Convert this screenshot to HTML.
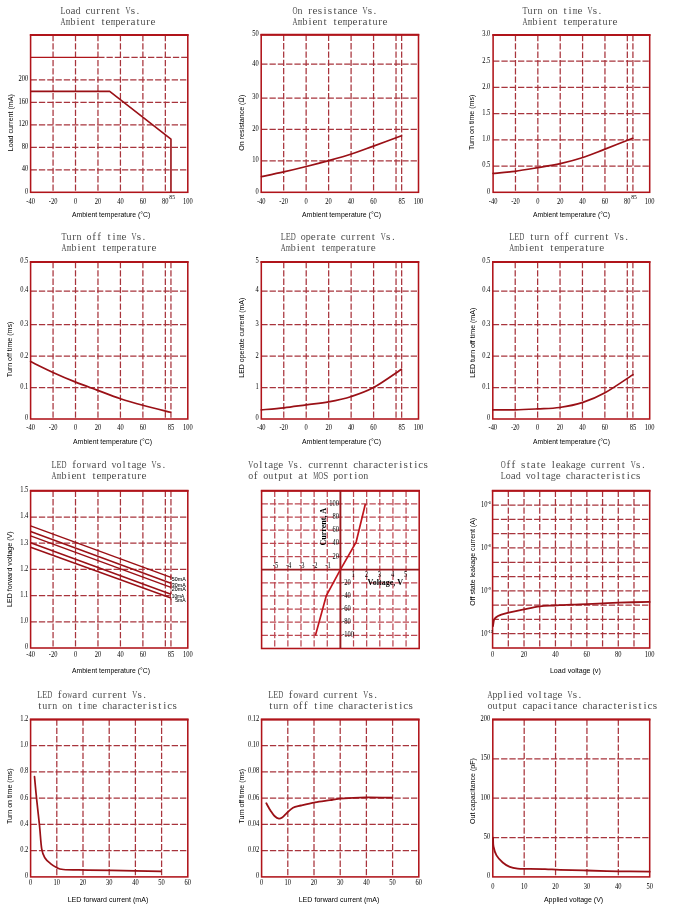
<!DOCTYPE html><html><head><meta charset="utf-8"><style>html,body{margin:0;padding:0;background:#fff;overflow:hidden}svg{display:block}</style></head><body>
<svg width="678" height="918" viewBox="0 0 678 918" style="will-change:transform">
<rect width="678" height="918" fill="#fff"/>
<line x1="53.06" y1="35" x2="53.06" y2="192.3" stroke="#a8343c" stroke-width="1.25" stroke-dasharray="6.3 2"/>
<line x1="75.51" y1="35" x2="75.51" y2="192.3" stroke="#a8343c" stroke-width="1.25" stroke-dasharray="6.3 2"/>
<line x1="97.97" y1="35" x2="97.97" y2="192.3" stroke="#a8343c" stroke-width="1.25" stroke-dasharray="6.3 2"/>
<line x1="120.43" y1="35" x2="120.43" y2="192.3" stroke="#a8343c" stroke-width="1.25" stroke-dasharray="6.3 2"/>
<line x1="142.89" y1="35" x2="142.89" y2="192.3" stroke="#a8343c" stroke-width="1.25" stroke-dasharray="6.3 2"/>
<line x1="165.34" y1="35" x2="165.34" y2="192.3" stroke="#a8343c" stroke-width="1.25" stroke-dasharray="6.3 2"/>
<line x1="30.6" y1="169.83" x2="187.8" y2="169.83" stroke="#a8343c" stroke-width="1.25" stroke-dasharray="6.3 2"/>
<line x1="30.6" y1="147.36" x2="187.8" y2="147.36" stroke="#a8343c" stroke-width="1.25" stroke-dasharray="6.3 2"/>
<line x1="30.6" y1="124.89" x2="187.8" y2="124.89" stroke="#a8343c" stroke-width="1.25" stroke-dasharray="6.3 2"/>
<line x1="30.6" y1="102.41" x2="187.8" y2="102.41" stroke="#a8343c" stroke-width="1.25" stroke-dasharray="6.3 2"/>
<line x1="30.6" y1="79.94" x2="187.8" y2="79.94" stroke="#a8343c" stroke-width="1.25" stroke-dasharray="6.3 2"/>
<line x1="30.6" y1="57.47" x2="98.2" y2="57.47" stroke="#b0141a" stroke-width="1.2"/>
<line x1="98.2" y1="57.47" x2="187.8" y2="57.47" stroke="#a8343c" stroke-width="1.25" stroke-dasharray="6.3 2"/>
<rect x="30.6" y="35" width="157.2" height="157.3" fill="none" stroke="#b0141a" stroke-width="1.55"/>
<line x1="29.85" y1="35" x2="188.55" y2="35" stroke="#b0141a" stroke-width="2.1"/>
<text x="28.3" y="193.6" font-family="Liberation Serif" font-size="7.2" text-anchor="end" fill="#000" textLength="3.24" lengthAdjust="spacingAndGlyphs">0</text>
<text x="28.3" y="171.13" font-family="Liberation Serif" font-size="7.2" text-anchor="end" fill="#000" textLength="6.48" lengthAdjust="spacingAndGlyphs">40</text>
<text x="28.3" y="148.66" font-family="Liberation Serif" font-size="7.2" text-anchor="end" fill="#000" textLength="6.48" lengthAdjust="spacingAndGlyphs">80</text>
<text x="28.3" y="126.19" font-family="Liberation Serif" font-size="7.2" text-anchor="end" fill="#000" textLength="9.72" lengthAdjust="spacingAndGlyphs">120</text>
<text x="28.3" y="103.71" font-family="Liberation Serif" font-size="7.2" text-anchor="end" fill="#000" textLength="9.72" lengthAdjust="spacingAndGlyphs">160</text>
<text x="28.3" y="81.24" font-family="Liberation Serif" font-size="7.2" text-anchor="end" fill="#000" textLength="9.72" lengthAdjust="spacingAndGlyphs">200</text>
<path d="M30.6,91.4 L109.7,91.4 L170.96,139.2 L170.96,192.3" fill="none" stroke="#9a1016" stroke-width="1.6" stroke-linejoin="round"/>
<text x="30.6" y="204" font-family="Liberation Serif" font-size="7.2" text-anchor="middle" fill="#000" textLength="8.64" lengthAdjust="spacingAndGlyphs">-40</text>
<text x="53.06" y="204" font-family="Liberation Serif" font-size="7.2" text-anchor="middle" fill="#000" textLength="8.64" lengthAdjust="spacingAndGlyphs">-20</text>
<text x="75.51" y="204" font-family="Liberation Serif" font-size="7.2" text-anchor="middle" fill="#000" textLength="3.24" lengthAdjust="spacingAndGlyphs">0</text>
<text x="97.97" y="204" font-family="Liberation Serif" font-size="7.2" text-anchor="middle" fill="#000" textLength="6.48" lengthAdjust="spacingAndGlyphs">20</text>
<text x="120.43" y="204" font-family="Liberation Serif" font-size="7.2" text-anchor="middle" fill="#000" textLength="6.48" lengthAdjust="spacingAndGlyphs">40</text>
<text x="142.89" y="204" font-family="Liberation Serif" font-size="7.2" text-anchor="middle" fill="#000" textLength="6.48" lengthAdjust="spacingAndGlyphs">60</text>
<text x="165.34" y="204" font-family="Liberation Serif" font-size="7.2" text-anchor="middle" fill="#000" textLength="6.48" lengthAdjust="spacingAndGlyphs">80</text>
<text x="187.8" y="204" font-family="Liberation Serif" font-size="7.2" text-anchor="middle" fill="#000" textLength="9.72" lengthAdjust="spacingAndGlyphs">100</text>
<text x="172.16" y="199.3" font-family="Liberation Serif" font-size="6.2" text-anchor="middle" fill="#000" textLength="5.58" lengthAdjust="spacingAndGlyphs">85</text>
<text x="111.15" y="214.6" font-family="Liberation Sans" font-size="7.6" text-anchor="middle" dominant-baseline="central" fill="#000" textLength="78.3" lengthAdjust="spacingAndGlyphs">Ambient temperature (°C)</text>
<text x="0" y="0" transform="translate(10.5,122.7) rotate(-90)" font-family="Liberation Sans" font-size="7.6" text-anchor="middle" dominant-baseline="central" fill="#000" textLength="57" lengthAdjust="spacingAndGlyphs">Load current (mA)</text>
<text x="63 68 73 78 83 88 93 98 103 108 113 118 123 128 133 138" y="13.6" font-family="Liberation Serif" font-size="11.2" text-anchor="middle" fill="#505050" xml:space="preserve">  a  c rre t  s.</text>
<text transform="translate(63,13.6) scale(0.731,1)" x="0" y="0" font-family="Liberation Serif" font-size="11.2" text-anchor="middle" fill="#505050">L</text>
<text transform="translate(68,13.6) scale(0.893,1)" x="0" y="0" font-family="Liberation Serif" font-size="11.2" text-anchor="middle" fill="#505050">o</text>
<text transform="translate(78,13.6) scale(0.893,1)" x="0" y="0" font-family="Liberation Serif" font-size="11.2" text-anchor="middle" fill="#505050">d</text>
<text transform="translate(93,13.6) scale(0.893,1)" x="0" y="0" font-family="Liberation Serif" font-size="11.2" text-anchor="middle" fill="#505050">u</text>
<text transform="translate(113,13.6) scale(0.893,1)" x="0" y="0" font-family="Liberation Serif" font-size="11.2" text-anchor="middle" fill="#505050">n</text>
<text transform="translate(128,13.6) scale(0.618,1)" x="0" y="0" font-family="Liberation Serif" font-size="11.2" text-anchor="middle" fill="#505050">V</text>
<text x="63 68 73 78 83 88 93 98 103 108 113 118 123 128 133 138 143 148 153" y="24.6" font-family="Liberation Serif" font-size="11.2" text-anchor="middle" fill="#505050" xml:space="preserve">   ie t te  erat re</text>
<text transform="translate(63,24.6) scale(0.618,1)" x="0" y="0" font-family="Liberation Serif" font-size="11.2" text-anchor="middle" fill="#505050">A</text>
<text transform="translate(68,24.6) scale(0.574,1)" x="0" y="0" font-family="Liberation Serif" font-size="11.2" text-anchor="middle" fill="#505050">m</text>
<text transform="translate(73,24.6) scale(0.893,1)" x="0" y="0" font-family="Liberation Serif" font-size="11.2" text-anchor="middle" fill="#505050">b</text>
<text transform="translate(88,24.6) scale(0.893,1)" x="0" y="0" font-family="Liberation Serif" font-size="11.2" text-anchor="middle" fill="#505050">n</text>
<text transform="translate(113,24.6) scale(0.574,1)" x="0" y="0" font-family="Liberation Serif" font-size="11.2" text-anchor="middle" fill="#505050">m</text>
<text transform="translate(118,24.6) scale(0.893,1)" x="0" y="0" font-family="Liberation Serif" font-size="11.2" text-anchor="middle" fill="#505050">p</text>
<text transform="translate(143,24.6) scale(0.893,1)" x="0" y="0" font-family="Liberation Serif" font-size="11.2" text-anchor="middle" fill="#505050">u</text>
<line x1="283.67" y1="34.8" x2="283.67" y2="192.3" stroke="#a8343c" stroke-width="1.25" stroke-dasharray="6.3 2"/>
<line x1="306.14" y1="34.8" x2="306.14" y2="192.3" stroke="#a8343c" stroke-width="1.25" stroke-dasharray="6.3 2"/>
<line x1="328.61" y1="34.8" x2="328.61" y2="192.3" stroke="#a8343c" stroke-width="1.25" stroke-dasharray="6.3 2"/>
<line x1="351.09" y1="34.8" x2="351.09" y2="192.3" stroke="#a8343c" stroke-width="1.25" stroke-dasharray="6.3 2"/>
<line x1="373.56" y1="34.8" x2="373.56" y2="192.3" stroke="#a8343c" stroke-width="1.25" stroke-dasharray="6.3 2"/>
<line x1="396.03" y1="34.8" x2="396.03" y2="192.3" stroke="#a8343c" stroke-width="1.25" stroke-dasharray="6.3 2"/>
<line x1="401.65" y1="34.8" x2="401.65" y2="192.3" stroke="#a8343c" stroke-width="1.25" stroke-dasharray="6.3 2"/>
<line x1="261.2" y1="160.9" x2="418.5" y2="160.9" stroke="#a8343c" stroke-width="1.25" stroke-dasharray="6.3 2"/>
<line x1="261.2" y1="129.3" x2="418.5" y2="129.3" stroke="#a8343c" stroke-width="1.25" stroke-dasharray="6.3 2"/>
<line x1="261.2" y1="98.1" x2="418.5" y2="98.1" stroke="#a8343c" stroke-width="1.25" stroke-dasharray="6.3 2"/>
<line x1="261.2" y1="64.2" x2="418.5" y2="64.2" stroke="#a8343c" stroke-width="1.25" stroke-dasharray="6.3 2"/>
<rect x="261.2" y="34.8" width="157.3" height="157.5" fill="none" stroke="#b0141a" stroke-width="1.55"/>
<line x1="260.45" y1="34.8" x2="419.25" y2="34.8" stroke="#b0141a" stroke-width="2.1"/>
<text x="258.8" y="193.6" font-family="Liberation Serif" font-size="7.2" text-anchor="end" fill="#000" textLength="3.24" lengthAdjust="spacingAndGlyphs">0</text>
<text x="258.8" y="162.2" font-family="Liberation Serif" font-size="7.2" text-anchor="end" fill="#000" textLength="6.48" lengthAdjust="spacingAndGlyphs">10</text>
<text x="258.8" y="130.6" font-family="Liberation Serif" font-size="7.2" text-anchor="end" fill="#000" textLength="6.48" lengthAdjust="spacingAndGlyphs">20</text>
<text x="258.8" y="99.4" font-family="Liberation Serif" font-size="7.2" text-anchor="end" fill="#000" textLength="6.48" lengthAdjust="spacingAndGlyphs">30</text>
<text x="258.8" y="65.5" font-family="Liberation Serif" font-size="7.2" text-anchor="end" fill="#000" textLength="6.48" lengthAdjust="spacingAndGlyphs">40</text>
<text x="258.8" y="36.1" font-family="Liberation Serif" font-size="7.2" text-anchor="end" fill="#000" textLength="6.48" lengthAdjust="spacingAndGlyphs">50</text>
<path d="M261.5,176.6 C265.2,175.82 276.23,173.58 283.7,171.9 C291.17,170.22 298.8,168.38 306.3,166.5 C313.8,164.62 321.18,162.68 328.7,160.6 C336.22,158.52 343.93,156.42 351.4,154 C358.87,151.58 365.15,149.13 373.5,146.1 C381.85,143.07 396.83,137.52 401.5,135.8" fill="none" stroke="#9a1016" stroke-width="1.7" stroke-linejoin="round" stroke-linecap="round"/>
<text x="261.2" y="204" font-family="Liberation Serif" font-size="7.2" text-anchor="middle" fill="#000" textLength="8.64" lengthAdjust="spacingAndGlyphs">-40</text>
<text x="283.67" y="204" font-family="Liberation Serif" font-size="7.2" text-anchor="middle" fill="#000" textLength="8.64" lengthAdjust="spacingAndGlyphs">-20</text>
<text x="306.14" y="204" font-family="Liberation Serif" font-size="7.2" text-anchor="middle" fill="#000" textLength="3.24" lengthAdjust="spacingAndGlyphs">0</text>
<text x="328.61" y="204" font-family="Liberation Serif" font-size="7.2" text-anchor="middle" fill="#000" textLength="6.48" lengthAdjust="spacingAndGlyphs">20</text>
<text x="351.09" y="204" font-family="Liberation Serif" font-size="7.2" text-anchor="middle" fill="#000" textLength="6.48" lengthAdjust="spacingAndGlyphs">40</text>
<text x="373.56" y="204" font-family="Liberation Serif" font-size="7.2" text-anchor="middle" fill="#000" textLength="6.48" lengthAdjust="spacingAndGlyphs">60</text>
<text x="401.65" y="204" font-family="Liberation Serif" font-size="7.2" text-anchor="middle" fill="#000" textLength="6.48" lengthAdjust="spacingAndGlyphs">85</text>
<text x="418.5" y="204" font-family="Liberation Serif" font-size="7.2" text-anchor="middle" fill="#000" textLength="9.72" lengthAdjust="spacingAndGlyphs">100</text>
<text x="341.5" y="214.6" font-family="Liberation Sans" font-size="7.6" text-anchor="middle" dominant-baseline="central" fill="#000" textLength="79" lengthAdjust="spacingAndGlyphs">Ambient temperature (°C)</text>
<text x="0" y="0" transform="translate(241,122.7) rotate(-90)" font-family="Liberation Sans" font-size="7.6" text-anchor="middle" dominant-baseline="central" fill="#000" textLength="56" lengthAdjust="spacingAndGlyphs">On resistance (Ω)</text>
<text x="295 300 305 310 315 320 325 330 335 340 345 350 355 360 365 370 375" y="13.6" font-family="Liberation Serif" font-size="11.2" text-anchor="middle" fill="#505050" xml:space="preserve">   resista ce  s.</text>
<text transform="translate(295,13.6) scale(0.618,1)" x="0" y="0" font-family="Liberation Serif" font-size="11.2" text-anchor="middle" fill="#505050">O</text>
<text transform="translate(300,13.6) scale(0.893,1)" x="0" y="0" font-family="Liberation Serif" font-size="11.2" text-anchor="middle" fill="#505050">n</text>
<text transform="translate(345,13.6) scale(0.893,1)" x="0" y="0" font-family="Liberation Serif" font-size="11.2" text-anchor="middle" fill="#505050">n</text>
<text transform="translate(365,13.6) scale(0.618,1)" x="0" y="0" font-family="Liberation Serif" font-size="11.2" text-anchor="middle" fill="#505050">V</text>
<text x="295 300 305 310 315 320 325 330 335 340 345 350 355 360 365 370 375 380 385" y="24.6" font-family="Liberation Serif" font-size="11.2" text-anchor="middle" fill="#505050" xml:space="preserve">   ie t te  erat re</text>
<text transform="translate(295,24.6) scale(0.618,1)" x="0" y="0" font-family="Liberation Serif" font-size="11.2" text-anchor="middle" fill="#505050">A</text>
<text transform="translate(300,24.6) scale(0.574,1)" x="0" y="0" font-family="Liberation Serif" font-size="11.2" text-anchor="middle" fill="#505050">m</text>
<text transform="translate(305,24.6) scale(0.893,1)" x="0" y="0" font-family="Liberation Serif" font-size="11.2" text-anchor="middle" fill="#505050">b</text>
<text transform="translate(320,24.6) scale(0.893,1)" x="0" y="0" font-family="Liberation Serif" font-size="11.2" text-anchor="middle" fill="#505050">n</text>
<text transform="translate(345,24.6) scale(0.574,1)" x="0" y="0" font-family="Liberation Serif" font-size="11.2" text-anchor="middle" fill="#505050">m</text>
<text transform="translate(350,24.6) scale(0.893,1)" x="0" y="0" font-family="Liberation Serif" font-size="11.2" text-anchor="middle" fill="#505050">p</text>
<text transform="translate(375,24.6) scale(0.893,1)" x="0" y="0" font-family="Liberation Serif" font-size="11.2" text-anchor="middle" fill="#505050">u</text>
<line x1="515.47" y1="35" x2="515.47" y2="192.3" stroke="#a8343c" stroke-width="1.25" stroke-dasharray="6.3 2"/>
<line x1="537.84" y1="35" x2="537.84" y2="192.3" stroke="#a8343c" stroke-width="1.25" stroke-dasharray="6.3 2"/>
<line x1="560.21" y1="35" x2="560.21" y2="192.3" stroke="#a8343c" stroke-width="1.25" stroke-dasharray="6.3 2"/>
<line x1="582.59" y1="35" x2="582.59" y2="192.3" stroke="#a8343c" stroke-width="1.25" stroke-dasharray="6.3 2"/>
<line x1="604.96" y1="35" x2="604.96" y2="192.3" stroke="#a8343c" stroke-width="1.25" stroke-dasharray="6.3 2"/>
<line x1="627.33" y1="35" x2="627.33" y2="192.3" stroke="#a8343c" stroke-width="1.25" stroke-dasharray="6.3 2"/>
<line x1="632.92" y1="35" x2="632.92" y2="192.3" stroke="#a8343c" stroke-width="1.25" stroke-dasharray="6.3 2"/>
<line x1="493.1" y1="166.08" x2="649.7" y2="166.08" stroke="#a8343c" stroke-width="1.25" stroke-dasharray="6.3 2"/>
<line x1="493.1" y1="139.87" x2="649.7" y2="139.87" stroke="#a8343c" stroke-width="1.25" stroke-dasharray="6.3 2"/>
<line x1="493.1" y1="113.65" x2="649.7" y2="113.65" stroke="#a8343c" stroke-width="1.25" stroke-dasharray="6.3 2"/>
<line x1="493.1" y1="87.43" x2="649.7" y2="87.43" stroke="#a8343c" stroke-width="1.25" stroke-dasharray="6.3 2"/>
<line x1="493.1" y1="61.22" x2="649.7" y2="61.22" stroke="#a8343c" stroke-width="1.25" stroke-dasharray="6.3 2"/>
<rect x="493.1" y="35" width="156.6" height="157.3" fill="none" stroke="#b0141a" stroke-width="1.55"/>
<line x1="492.35" y1="35" x2="650.45" y2="35" stroke="#b0141a" stroke-width="2.1"/>
<text x="490.3" y="193.6" font-family="Liberation Serif" font-size="7.2" text-anchor="end" fill="#000" textLength="3.24" lengthAdjust="spacingAndGlyphs">0</text>
<text x="490.3" y="167.38" font-family="Liberation Serif" font-size="7.2" text-anchor="end" fill="#000" textLength="8.1" lengthAdjust="spacingAndGlyphs">0.5</text>
<text x="490.3" y="141.17" font-family="Liberation Serif" font-size="7.2" text-anchor="end" fill="#000" textLength="8.1" lengthAdjust="spacingAndGlyphs">1.0</text>
<text x="490.3" y="114.95" font-family="Liberation Serif" font-size="7.2" text-anchor="end" fill="#000" textLength="8.1" lengthAdjust="spacingAndGlyphs">1.5</text>
<text x="490.3" y="88.73" font-family="Liberation Serif" font-size="7.2" text-anchor="end" fill="#000" textLength="8.1" lengthAdjust="spacingAndGlyphs">2.0</text>
<text x="490.3" y="62.52" font-family="Liberation Serif" font-size="7.2" text-anchor="end" fill="#000" textLength="8.1" lengthAdjust="spacingAndGlyphs">2.5</text>
<text x="490.3" y="36.3" font-family="Liberation Serif" font-size="7.2" text-anchor="end" fill="#000" textLength="8.1" lengthAdjust="spacingAndGlyphs">3.0</text>
<path d="M493.1,173.4 C496.73,173.05 507.48,172.25 514.9,171.3 C522.32,170.35 530.03,168.98 537.6,167.7 C545.17,166.42 552.75,165.3 560.3,163.6 C567.85,161.9 575.45,159.92 582.9,157.5 C590.35,155.08 596.7,152.3 605,149.1 C613.3,145.9 628.08,140.1 632.7,138.3" fill="none" stroke="#9a1016" stroke-width="1.7" stroke-linejoin="round" stroke-linecap="round"/>
<text x="493.1" y="204" font-family="Liberation Serif" font-size="7.2" text-anchor="middle" fill="#000" textLength="8.64" lengthAdjust="spacingAndGlyphs">-40</text>
<text x="515.47" y="204" font-family="Liberation Serif" font-size="7.2" text-anchor="middle" fill="#000" textLength="8.64" lengthAdjust="spacingAndGlyphs">-20</text>
<text x="537.84" y="204" font-family="Liberation Serif" font-size="7.2" text-anchor="middle" fill="#000" textLength="3.24" lengthAdjust="spacingAndGlyphs">0</text>
<text x="560.21" y="204" font-family="Liberation Serif" font-size="7.2" text-anchor="middle" fill="#000" textLength="6.48" lengthAdjust="spacingAndGlyphs">20</text>
<text x="582.59" y="204" font-family="Liberation Serif" font-size="7.2" text-anchor="middle" fill="#000" textLength="6.48" lengthAdjust="spacingAndGlyphs">40</text>
<text x="604.96" y="204" font-family="Liberation Serif" font-size="7.2" text-anchor="middle" fill="#000" textLength="6.48" lengthAdjust="spacingAndGlyphs">60</text>
<text x="627.33" y="204" font-family="Liberation Serif" font-size="7.2" text-anchor="middle" fill="#000" textLength="6.48" lengthAdjust="spacingAndGlyphs">80</text>
<text x="649.7" y="204" font-family="Liberation Serif" font-size="7.2" text-anchor="middle" fill="#000" textLength="9.72" lengthAdjust="spacingAndGlyphs">100</text>
<text x="634.12" y="199.3" font-family="Liberation Serif" font-size="6.2" text-anchor="middle" fill="#000" textLength="5.58" lengthAdjust="spacingAndGlyphs">85</text>
<text x="571.5" y="214.6" font-family="Liberation Sans" font-size="7.6" text-anchor="middle" dominant-baseline="central" fill="#000" textLength="77" lengthAdjust="spacingAndGlyphs">Ambient temperature (°C)</text>
<text x="0" y="0" transform="translate(471.4,122.4) rotate(-90)" font-family="Liberation Sans" font-size="7.6" text-anchor="middle" dominant-baseline="central" fill="#000" textLength="55.4" lengthAdjust="spacingAndGlyphs">Turn on time (ms)</text>
<text x="525 530 535 540 545 550 555 560 565 570 575 580 585 590 595 600" y="13.6" font-family="Liberation Serif" font-size="11.2" text-anchor="middle" fill="#505050" xml:space="preserve">  r     ti e  s.</text>
<text transform="translate(525,13.6) scale(0.731,1)" x="0" y="0" font-family="Liberation Serif" font-size="11.2" text-anchor="middle" fill="#505050">T</text>
<text transform="translate(530,13.6) scale(0.893,1)" x="0" y="0" font-family="Liberation Serif" font-size="11.2" text-anchor="middle" fill="#505050">u</text>
<text transform="translate(540,13.6) scale(0.893,1)" x="0" y="0" font-family="Liberation Serif" font-size="11.2" text-anchor="middle" fill="#505050">n</text>
<text transform="translate(550,13.6) scale(0.893,1)" x="0" y="0" font-family="Liberation Serif" font-size="11.2" text-anchor="middle" fill="#505050">o</text>
<text transform="translate(555,13.6) scale(0.893,1)" x="0" y="0" font-family="Liberation Serif" font-size="11.2" text-anchor="middle" fill="#505050">n</text>
<text transform="translate(575,13.6) scale(0.574,1)" x="0" y="0" font-family="Liberation Serif" font-size="11.2" text-anchor="middle" fill="#505050">m</text>
<text transform="translate(590,13.6) scale(0.618,1)" x="0" y="0" font-family="Liberation Serif" font-size="11.2" text-anchor="middle" fill="#505050">V</text>
<text x="525 530 535 540 545 550 555 560 565 570 575 580 585 590 595 600 605 610 615" y="24.6" font-family="Liberation Serif" font-size="11.2" text-anchor="middle" fill="#505050" xml:space="preserve">   ie t te  erat re</text>
<text transform="translate(525,24.6) scale(0.618,1)" x="0" y="0" font-family="Liberation Serif" font-size="11.2" text-anchor="middle" fill="#505050">A</text>
<text transform="translate(530,24.6) scale(0.574,1)" x="0" y="0" font-family="Liberation Serif" font-size="11.2" text-anchor="middle" fill="#505050">m</text>
<text transform="translate(535,24.6) scale(0.893,1)" x="0" y="0" font-family="Liberation Serif" font-size="11.2" text-anchor="middle" fill="#505050">b</text>
<text transform="translate(550,24.6) scale(0.893,1)" x="0" y="0" font-family="Liberation Serif" font-size="11.2" text-anchor="middle" fill="#505050">n</text>
<text transform="translate(575,24.6) scale(0.574,1)" x="0" y="0" font-family="Liberation Serif" font-size="11.2" text-anchor="middle" fill="#505050">m</text>
<text transform="translate(580,24.6) scale(0.893,1)" x="0" y="0" font-family="Liberation Serif" font-size="11.2" text-anchor="middle" fill="#505050">p</text>
<text transform="translate(605,24.6) scale(0.893,1)" x="0" y="0" font-family="Liberation Serif" font-size="11.2" text-anchor="middle" fill="#505050">u</text>
<line x1="53.06" y1="262" x2="53.06" y2="419" stroke="#a8343c" stroke-width="1.25" stroke-dasharray="6.3 2"/>
<line x1="75.51" y1="262" x2="75.51" y2="419" stroke="#a8343c" stroke-width="1.25" stroke-dasharray="6.3 2"/>
<line x1="97.97" y1="262" x2="97.97" y2="419" stroke="#a8343c" stroke-width="1.25" stroke-dasharray="6.3 2"/>
<line x1="120.43" y1="262" x2="120.43" y2="419" stroke="#a8343c" stroke-width="1.25" stroke-dasharray="6.3 2"/>
<line x1="142.89" y1="262" x2="142.89" y2="419" stroke="#a8343c" stroke-width="1.25" stroke-dasharray="6.3 2"/>
<line x1="165.34" y1="262" x2="165.34" y2="419" stroke="#a8343c" stroke-width="1.25" stroke-dasharray="6.3 2"/>
<line x1="170.96" y1="262" x2="170.96" y2="419" stroke="#a8343c" stroke-width="1.25" stroke-dasharray="6.3 2"/>
<line x1="30.6" y1="387.6" x2="187.8" y2="387.6" stroke="#a8343c" stroke-width="1.25" stroke-dasharray="6.3 2"/>
<line x1="30.6" y1="356.2" x2="187.8" y2="356.2" stroke="#a8343c" stroke-width="1.25" stroke-dasharray="6.3 2"/>
<line x1="30.6" y1="324.6" x2="187.8" y2="324.6" stroke="#a8343c" stroke-width="1.25" stroke-dasharray="6.3 2"/>
<line x1="30.6" y1="291.1" x2="187.8" y2="291.1" stroke="#a8343c" stroke-width="1.25" stroke-dasharray="6.3 2"/>
<rect x="30.6" y="262" width="157.2" height="157" fill="none" stroke="#b0141a" stroke-width="1.55"/>
<line x1="29.85" y1="262" x2="188.55" y2="262" stroke="#b0141a" stroke-width="2.1"/>
<text x="28.3" y="420.3" font-family="Liberation Serif" font-size="7.2" text-anchor="end" fill="#000" textLength="3.24" lengthAdjust="spacingAndGlyphs">0</text>
<text x="28.3" y="388.9" font-family="Liberation Serif" font-size="7.2" text-anchor="end" fill="#000" textLength="8.1" lengthAdjust="spacingAndGlyphs">0.1</text>
<text x="28.3" y="357.5" font-family="Liberation Serif" font-size="7.2" text-anchor="end" fill="#000" textLength="8.1" lengthAdjust="spacingAndGlyphs">0.2</text>
<text x="28.3" y="325.9" font-family="Liberation Serif" font-size="7.2" text-anchor="end" fill="#000" textLength="8.1" lengthAdjust="spacingAndGlyphs">0.3</text>
<text x="28.3" y="292.4" font-family="Liberation Serif" font-size="7.2" text-anchor="end" fill="#000" textLength="8.1" lengthAdjust="spacingAndGlyphs">0.4</text>
<text x="28.3" y="263.3" font-family="Liberation Serif" font-size="7.2" text-anchor="end" fill="#000" textLength="8.1" lengthAdjust="spacingAndGlyphs">0.5</text>
<path d="M30.6,361.6 C34.33,363.4 45.58,369.02 53,372.4 C60.42,375.78 67.77,378.95 75.1,381.9 C82.43,384.85 89.45,387.3 97,390.1 C104.55,392.9 112.77,396.17 120.4,398.7 C128.03,401.23 134.45,403.03 142.8,405.3 C151.15,407.57 165.88,411.13 170.5,412.3" fill="none" stroke="#9a1016" stroke-width="1.7" stroke-linejoin="round" stroke-linecap="round"/>
<text x="30.6" y="430" font-family="Liberation Serif" font-size="7.2" text-anchor="middle" fill="#000" textLength="8.64" lengthAdjust="spacingAndGlyphs">-40</text>
<text x="53.06" y="430" font-family="Liberation Serif" font-size="7.2" text-anchor="middle" fill="#000" textLength="8.64" lengthAdjust="spacingAndGlyphs">-20</text>
<text x="75.51" y="430" font-family="Liberation Serif" font-size="7.2" text-anchor="middle" fill="#000" textLength="3.24" lengthAdjust="spacingAndGlyphs">0</text>
<text x="97.97" y="430" font-family="Liberation Serif" font-size="7.2" text-anchor="middle" fill="#000" textLength="6.48" lengthAdjust="spacingAndGlyphs">20</text>
<text x="120.43" y="430" font-family="Liberation Serif" font-size="7.2" text-anchor="middle" fill="#000" textLength="6.48" lengthAdjust="spacingAndGlyphs">40</text>
<text x="142.89" y="430" font-family="Liberation Serif" font-size="7.2" text-anchor="middle" fill="#000" textLength="6.48" lengthAdjust="spacingAndGlyphs">60</text>
<text x="170.96" y="430" font-family="Liberation Serif" font-size="7.2" text-anchor="middle" fill="#000" textLength="6.48" lengthAdjust="spacingAndGlyphs">85</text>
<text x="187.8" y="430" font-family="Liberation Serif" font-size="7.2" text-anchor="middle" fill="#000" textLength="9.72" lengthAdjust="spacingAndGlyphs">100</text>
<text x="112.5" y="441.6" font-family="Liberation Sans" font-size="7.6" text-anchor="middle" dominant-baseline="central" fill="#000" textLength="79" lengthAdjust="spacingAndGlyphs">Ambient temperature (°C)</text>
<text x="0" y="0" transform="translate(9.6,349.4) rotate(-90)" font-family="Liberation Sans" font-size="7.6" text-anchor="middle" dominant-baseline="central" fill="#000" textLength="55.5" lengthAdjust="spacingAndGlyphs">Turn off time (ms)</text>
<text x="64 69 74 79 84 89 94 99 104 109 114 119 124 129 134 139 144" y="239.6" font-family="Liberation Serif" font-size="11.2" text-anchor="middle" fill="#505050" xml:space="preserve">  r   ff ti e  s.</text>
<text transform="translate(64,239.6) scale(0.731,1)" x="0" y="0" font-family="Liberation Serif" font-size="11.2" text-anchor="middle" fill="#505050">T</text>
<text transform="translate(69,239.6) scale(0.893,1)" x="0" y="0" font-family="Liberation Serif" font-size="11.2" text-anchor="middle" fill="#505050">u</text>
<text transform="translate(79,239.6) scale(0.893,1)" x="0" y="0" font-family="Liberation Serif" font-size="11.2" text-anchor="middle" fill="#505050">n</text>
<text transform="translate(89,239.6) scale(0.893,1)" x="0" y="0" font-family="Liberation Serif" font-size="11.2" text-anchor="middle" fill="#505050">o</text>
<text transform="translate(119,239.6) scale(0.574,1)" x="0" y="0" font-family="Liberation Serif" font-size="11.2" text-anchor="middle" fill="#505050">m</text>
<text transform="translate(134,239.6) scale(0.618,1)" x="0" y="0" font-family="Liberation Serif" font-size="11.2" text-anchor="middle" fill="#505050">V</text>
<text x="64 69 74 79 84 89 94 99 104 109 114 119 124 129 134 139 144 149 154" y="250.6" font-family="Liberation Serif" font-size="11.2" text-anchor="middle" fill="#505050" xml:space="preserve">   ie t te  erat re</text>
<text transform="translate(64,250.6) scale(0.618,1)" x="0" y="0" font-family="Liberation Serif" font-size="11.2" text-anchor="middle" fill="#505050">A</text>
<text transform="translate(69,250.6) scale(0.574,1)" x="0" y="0" font-family="Liberation Serif" font-size="11.2" text-anchor="middle" fill="#505050">m</text>
<text transform="translate(74,250.6) scale(0.893,1)" x="0" y="0" font-family="Liberation Serif" font-size="11.2" text-anchor="middle" fill="#505050">b</text>
<text transform="translate(89,250.6) scale(0.893,1)" x="0" y="0" font-family="Liberation Serif" font-size="11.2" text-anchor="middle" fill="#505050">n</text>
<text transform="translate(114,250.6) scale(0.574,1)" x="0" y="0" font-family="Liberation Serif" font-size="11.2" text-anchor="middle" fill="#505050">m</text>
<text transform="translate(119,250.6) scale(0.893,1)" x="0" y="0" font-family="Liberation Serif" font-size="11.2" text-anchor="middle" fill="#505050">p</text>
<text transform="translate(144,250.6) scale(0.893,1)" x="0" y="0" font-family="Liberation Serif" font-size="11.2" text-anchor="middle" fill="#505050">u</text>
<line x1="283.76" y1="262" x2="283.76" y2="419" stroke="#a8343c" stroke-width="1.25" stroke-dasharray="6.3 2"/>
<line x1="306.21" y1="262" x2="306.21" y2="419" stroke="#a8343c" stroke-width="1.25" stroke-dasharray="6.3 2"/>
<line x1="328.67" y1="262" x2="328.67" y2="419" stroke="#a8343c" stroke-width="1.25" stroke-dasharray="6.3 2"/>
<line x1="351.13" y1="262" x2="351.13" y2="419" stroke="#a8343c" stroke-width="1.25" stroke-dasharray="6.3 2"/>
<line x1="373.59" y1="262" x2="373.59" y2="419" stroke="#a8343c" stroke-width="1.25" stroke-dasharray="6.3 2"/>
<line x1="396.04" y1="262" x2="396.04" y2="419" stroke="#a8343c" stroke-width="1.25" stroke-dasharray="6.3 2"/>
<line x1="401.66" y1="262" x2="401.66" y2="419" stroke="#a8343c" stroke-width="1.25" stroke-dasharray="6.3 2"/>
<line x1="261.3" y1="387.6" x2="418.5" y2="387.6" stroke="#a8343c" stroke-width="1.25" stroke-dasharray="6.3 2"/>
<line x1="261.3" y1="356.2" x2="418.5" y2="356.2" stroke="#a8343c" stroke-width="1.25" stroke-dasharray="6.3 2"/>
<line x1="261.3" y1="324.7" x2="418.5" y2="324.7" stroke="#a8343c" stroke-width="1.25" stroke-dasharray="6.3 2"/>
<line x1="261.3" y1="291.1" x2="418.5" y2="291.1" stroke="#a8343c" stroke-width="1.25" stroke-dasharray="6.3 2"/>
<rect x="261.3" y="262" width="157.2" height="157" fill="none" stroke="#b0141a" stroke-width="1.55"/>
<line x1="260.55" y1="262" x2="419.25" y2="262" stroke="#b0141a" stroke-width="2.1"/>
<text x="258.8" y="420.3" font-family="Liberation Serif" font-size="7.2" text-anchor="end" fill="#000" textLength="3.24" lengthAdjust="spacingAndGlyphs">0</text>
<text x="258.8" y="388.9" font-family="Liberation Serif" font-size="7.2" text-anchor="end" fill="#000" textLength="3.24" lengthAdjust="spacingAndGlyphs">1</text>
<text x="258.8" y="357.5" font-family="Liberation Serif" font-size="7.2" text-anchor="end" fill="#000" textLength="3.24" lengthAdjust="spacingAndGlyphs">2</text>
<text x="258.8" y="326" font-family="Liberation Serif" font-size="7.2" text-anchor="end" fill="#000" textLength="3.24" lengthAdjust="spacingAndGlyphs">3</text>
<text x="258.8" y="292.4" font-family="Liberation Serif" font-size="7.2" text-anchor="end" fill="#000" textLength="3.24" lengthAdjust="spacingAndGlyphs">4</text>
<text x="258.8" y="263.3" font-family="Liberation Serif" font-size="7.2" text-anchor="end" fill="#000" textLength="3.24" lengthAdjust="spacingAndGlyphs">5</text>
<path d="M261.3,409.9 C265.08,409.55 276.48,408.65 284,407.8 C291.52,406.95 298.97,405.78 306.4,404.8 C313.83,403.82 321.1,403.28 328.6,401.9 C336.1,400.52 343.92,398.88 351.4,396.5 C358.88,394.12 365.15,392.15 373.5,387.6 C381.85,383.05 396.83,372.27 401.5,369.2" fill="none" stroke="#9a1016" stroke-width="1.7" stroke-linejoin="round" stroke-linecap="round"/>
<text x="261.3" y="430" font-family="Liberation Serif" font-size="7.2" text-anchor="middle" fill="#000" textLength="8.64" lengthAdjust="spacingAndGlyphs">-40</text>
<text x="283.76" y="430" font-family="Liberation Serif" font-size="7.2" text-anchor="middle" fill="#000" textLength="8.64" lengthAdjust="spacingAndGlyphs">-20</text>
<text x="306.21" y="430" font-family="Liberation Serif" font-size="7.2" text-anchor="middle" fill="#000" textLength="3.24" lengthAdjust="spacingAndGlyphs">0</text>
<text x="328.67" y="430" font-family="Liberation Serif" font-size="7.2" text-anchor="middle" fill="#000" textLength="6.48" lengthAdjust="spacingAndGlyphs">20</text>
<text x="351.13" y="430" font-family="Liberation Serif" font-size="7.2" text-anchor="middle" fill="#000" textLength="6.48" lengthAdjust="spacingAndGlyphs">40</text>
<text x="373.59" y="430" font-family="Liberation Serif" font-size="7.2" text-anchor="middle" fill="#000" textLength="6.48" lengthAdjust="spacingAndGlyphs">60</text>
<text x="401.66" y="430" font-family="Liberation Serif" font-size="7.2" text-anchor="middle" fill="#000" textLength="6.48" lengthAdjust="spacingAndGlyphs">85</text>
<text x="418.5" y="430" font-family="Liberation Serif" font-size="7.2" text-anchor="middle" fill="#000" textLength="9.72" lengthAdjust="spacingAndGlyphs">100</text>
<text x="341.5" y="441.6" font-family="Liberation Sans" font-size="7.6" text-anchor="middle" dominant-baseline="central" fill="#000" textLength="79" lengthAdjust="spacingAndGlyphs">Ambient temperature (°C)</text>
<text x="0" y="0" transform="translate(241,337.7) rotate(-90)" font-family="Liberation Sans" font-size="7.6" text-anchor="middle" dominant-baseline="central" fill="#000" textLength="80" lengthAdjust="spacingAndGlyphs">LED operate current (mA)</text>
<text x="283.3 288.3 293.3 298.3 303.3 308.3 313.3 318.3 323.3 328.3 333.3 338.3 343.3 348.3 353.3 358.3 363.3 368.3 373.3 378.3 383.3 388.3 393.3" y="239.6" font-family="Liberation Serif" font-size="11.2" text-anchor="middle" fill="#505050" xml:space="preserve">      erate c rre t  s.</text>
<text transform="translate(283.3,239.6) scale(0.731,1)" x="0" y="0" font-family="Liberation Serif" font-size="11.2" text-anchor="middle" fill="#505050">L</text>
<text transform="translate(288.3,239.6) scale(0.731,1)" x="0" y="0" font-family="Liberation Serif" font-size="11.2" text-anchor="middle" fill="#505050">E</text>
<text transform="translate(293.3,239.6) scale(0.618,1)" x="0" y="0" font-family="Liberation Serif" font-size="11.2" text-anchor="middle" fill="#505050">D</text>
<text transform="translate(303.3,239.6) scale(0.893,1)" x="0" y="0" font-family="Liberation Serif" font-size="11.2" text-anchor="middle" fill="#505050">o</text>
<text transform="translate(308.3,239.6) scale(0.893,1)" x="0" y="0" font-family="Liberation Serif" font-size="11.2" text-anchor="middle" fill="#505050">p</text>
<text transform="translate(348.3,239.6) scale(0.893,1)" x="0" y="0" font-family="Liberation Serif" font-size="11.2" text-anchor="middle" fill="#505050">u</text>
<text transform="translate(368.3,239.6) scale(0.893,1)" x="0" y="0" font-family="Liberation Serif" font-size="11.2" text-anchor="middle" fill="#505050">n</text>
<text transform="translate(383.3,239.6) scale(0.618,1)" x="0" y="0" font-family="Liberation Serif" font-size="11.2" text-anchor="middle" fill="#505050">V</text>
<text x="283.3 288.3 293.3 298.3 303.3 308.3 313.3 318.3 323.3 328.3 333.3 338.3 343.3 348.3 353.3 358.3 363.3 368.3 373.3" y="250.6" font-family="Liberation Serif" font-size="11.2" text-anchor="middle" fill="#505050" xml:space="preserve">   ie t te  erat re</text>
<text transform="translate(283.3,250.6) scale(0.618,1)" x="0" y="0" font-family="Liberation Serif" font-size="11.2" text-anchor="middle" fill="#505050">A</text>
<text transform="translate(288.3,250.6) scale(0.574,1)" x="0" y="0" font-family="Liberation Serif" font-size="11.2" text-anchor="middle" fill="#505050">m</text>
<text transform="translate(293.3,250.6) scale(0.893,1)" x="0" y="0" font-family="Liberation Serif" font-size="11.2" text-anchor="middle" fill="#505050">b</text>
<text transform="translate(308.3,250.6) scale(0.893,1)" x="0" y="0" font-family="Liberation Serif" font-size="11.2" text-anchor="middle" fill="#505050">n</text>
<text transform="translate(333.3,250.6) scale(0.574,1)" x="0" y="0" font-family="Liberation Serif" font-size="11.2" text-anchor="middle" fill="#505050">m</text>
<text transform="translate(338.3,250.6) scale(0.893,1)" x="0" y="0" font-family="Liberation Serif" font-size="11.2" text-anchor="middle" fill="#505050">p</text>
<text transform="translate(363.3,250.6) scale(0.893,1)" x="0" y="0" font-family="Liberation Serif" font-size="11.2" text-anchor="middle" fill="#505050">u</text>
<line x1="515.21" y1="262" x2="515.21" y2="419" stroke="#a8343c" stroke-width="1.25" stroke-dasharray="6.3 2"/>
<line x1="537.63" y1="262" x2="537.63" y2="419" stroke="#a8343c" stroke-width="1.25" stroke-dasharray="6.3 2"/>
<line x1="560.04" y1="262" x2="560.04" y2="419" stroke="#a8343c" stroke-width="1.25" stroke-dasharray="6.3 2"/>
<line x1="582.46" y1="262" x2="582.46" y2="419" stroke="#a8343c" stroke-width="1.25" stroke-dasharray="6.3 2"/>
<line x1="604.87" y1="262" x2="604.87" y2="419" stroke="#a8343c" stroke-width="1.25" stroke-dasharray="6.3 2"/>
<line x1="627.29" y1="262" x2="627.29" y2="419" stroke="#a8343c" stroke-width="1.25" stroke-dasharray="6.3 2"/>
<line x1="632.89" y1="262" x2="632.89" y2="419" stroke="#a8343c" stroke-width="1.25" stroke-dasharray="6.3 2"/>
<line x1="492.8" y1="387.6" x2="649.7" y2="387.6" stroke="#a8343c" stroke-width="1.25" stroke-dasharray="6.3 2"/>
<line x1="492.8" y1="356.2" x2="649.7" y2="356.2" stroke="#a8343c" stroke-width="1.25" stroke-dasharray="6.3 2"/>
<line x1="492.8" y1="324.7" x2="649.7" y2="324.7" stroke="#a8343c" stroke-width="1.25" stroke-dasharray="6.3 2"/>
<line x1="492.8" y1="291.1" x2="649.7" y2="291.1" stroke="#a8343c" stroke-width="1.25" stroke-dasharray="6.3 2"/>
<rect x="492.8" y="262" width="156.9" height="157" fill="none" stroke="#b0141a" stroke-width="1.55"/>
<line x1="492.05" y1="262" x2="650.45" y2="262" stroke="#b0141a" stroke-width="2.1"/>
<text x="490.3" y="420.3" font-family="Liberation Serif" font-size="7.2" text-anchor="end" fill="#000" textLength="3.24" lengthAdjust="spacingAndGlyphs">0</text>
<text x="490.3" y="388.9" font-family="Liberation Serif" font-size="7.2" text-anchor="end" fill="#000" textLength="8.1" lengthAdjust="spacingAndGlyphs">0.1</text>
<text x="490.3" y="357.5" font-family="Liberation Serif" font-size="7.2" text-anchor="end" fill="#000" textLength="8.1" lengthAdjust="spacingAndGlyphs">0.2</text>
<text x="490.3" y="326" font-family="Liberation Serif" font-size="7.2" text-anchor="end" fill="#000" textLength="8.1" lengthAdjust="spacingAndGlyphs">0.3</text>
<text x="490.3" y="292.4" font-family="Liberation Serif" font-size="7.2" text-anchor="end" fill="#000" textLength="8.1" lengthAdjust="spacingAndGlyphs">0.4</text>
<text x="490.3" y="263.3" font-family="Liberation Serif" font-size="7.2" text-anchor="end" fill="#000" textLength="8.1" lengthAdjust="spacingAndGlyphs">0.5</text>
<path d="M492.8,409.9 C496.5,409.9 507.57,410.07 515,409.9 C522.43,409.73 529.97,409.3 537.4,408.9 C544.83,408.5 552.02,408.58 559.6,407.5 C567.18,406.42 575.33,404.85 582.9,402.4 C590.47,399.95 596.65,397.43 605,392.8 C613.35,388.17 628.33,377.63 633,374.6" fill="none" stroke="#9a1016" stroke-width="1.7" stroke-linejoin="round" stroke-linecap="round"/>
<text x="492.8" y="430" font-family="Liberation Serif" font-size="7.2" text-anchor="middle" fill="#000" textLength="8.64" lengthAdjust="spacingAndGlyphs">-40</text>
<text x="515.21" y="430" font-family="Liberation Serif" font-size="7.2" text-anchor="middle" fill="#000" textLength="8.64" lengthAdjust="spacingAndGlyphs">-20</text>
<text x="537.63" y="430" font-family="Liberation Serif" font-size="7.2" text-anchor="middle" fill="#000" textLength="3.24" lengthAdjust="spacingAndGlyphs">0</text>
<text x="560.04" y="430" font-family="Liberation Serif" font-size="7.2" text-anchor="middle" fill="#000" textLength="6.48" lengthAdjust="spacingAndGlyphs">20</text>
<text x="582.46" y="430" font-family="Liberation Serif" font-size="7.2" text-anchor="middle" fill="#000" textLength="6.48" lengthAdjust="spacingAndGlyphs">40</text>
<text x="604.87" y="430" font-family="Liberation Serif" font-size="7.2" text-anchor="middle" fill="#000" textLength="6.48" lengthAdjust="spacingAndGlyphs">60</text>
<text x="632.89" y="430" font-family="Liberation Serif" font-size="7.2" text-anchor="middle" fill="#000" textLength="6.48" lengthAdjust="spacingAndGlyphs">85</text>
<text x="649.7" y="430" font-family="Liberation Serif" font-size="7.2" text-anchor="middle" fill="#000" textLength="9.72" lengthAdjust="spacingAndGlyphs">100</text>
<text x="571.5" y="441.6" font-family="Liberation Sans" font-size="7.6" text-anchor="middle" dominant-baseline="central" fill="#000" textLength="77" lengthAdjust="spacingAndGlyphs">Ambient temperature (°C)</text>
<text x="0" y="0" transform="translate(472,342.7) rotate(-90)" font-family="Liberation Sans" font-size="7.6" text-anchor="middle" dominant-baseline="central" fill="#000" textLength="70" lengthAdjust="spacingAndGlyphs">LED turn off time (mA)</text>
<text x="511.7 516.7 521.7 526.7 531.7 536.7 541.7 546.7 551.7 556.7 561.7 566.7 571.7 576.7 581.7 586.7 591.7 596.7 601.7 606.7 611.7 616.7 621.7 626.7" y="239.6" font-family="Liberation Serif" font-size="11.2" text-anchor="middle" fill="#505050" xml:space="preserve">    t r   ff c rre t  s.</text>
<text transform="translate(511.7,239.6) scale(0.731,1)" x="0" y="0" font-family="Liberation Serif" font-size="11.2" text-anchor="middle" fill="#505050">L</text>
<text transform="translate(516.7,239.6) scale(0.731,1)" x="0" y="0" font-family="Liberation Serif" font-size="11.2" text-anchor="middle" fill="#505050">E</text>
<text transform="translate(521.7,239.6) scale(0.618,1)" x="0" y="0" font-family="Liberation Serif" font-size="11.2" text-anchor="middle" fill="#505050">D</text>
<text transform="translate(536.7,239.6) scale(0.893,1)" x="0" y="0" font-family="Liberation Serif" font-size="11.2" text-anchor="middle" fill="#505050">u</text>
<text transform="translate(546.7,239.6) scale(0.893,1)" x="0" y="0" font-family="Liberation Serif" font-size="11.2" text-anchor="middle" fill="#505050">n</text>
<text transform="translate(556.7,239.6) scale(0.893,1)" x="0" y="0" font-family="Liberation Serif" font-size="11.2" text-anchor="middle" fill="#505050">o</text>
<text transform="translate(581.7,239.6) scale(0.893,1)" x="0" y="0" font-family="Liberation Serif" font-size="11.2" text-anchor="middle" fill="#505050">u</text>
<text transform="translate(601.7,239.6) scale(0.893,1)" x="0" y="0" font-family="Liberation Serif" font-size="11.2" text-anchor="middle" fill="#505050">n</text>
<text transform="translate(616.7,239.6) scale(0.618,1)" x="0" y="0" font-family="Liberation Serif" font-size="11.2" text-anchor="middle" fill="#505050">V</text>
<text x="511.7 516.7 521.7 526.7 531.7 536.7 541.7 546.7 551.7 556.7 561.7 566.7 571.7 576.7 581.7 586.7 591.7 596.7 601.7" y="250.6" font-family="Liberation Serif" font-size="11.2" text-anchor="middle" fill="#505050" xml:space="preserve">   ie t te  erat re</text>
<text transform="translate(511.7,250.6) scale(0.618,1)" x="0" y="0" font-family="Liberation Serif" font-size="11.2" text-anchor="middle" fill="#505050">A</text>
<text transform="translate(516.7,250.6) scale(0.574,1)" x="0" y="0" font-family="Liberation Serif" font-size="11.2" text-anchor="middle" fill="#505050">m</text>
<text transform="translate(521.7,250.6) scale(0.893,1)" x="0" y="0" font-family="Liberation Serif" font-size="11.2" text-anchor="middle" fill="#505050">b</text>
<text transform="translate(536.7,250.6) scale(0.893,1)" x="0" y="0" font-family="Liberation Serif" font-size="11.2" text-anchor="middle" fill="#505050">n</text>
<text transform="translate(561.7,250.6) scale(0.574,1)" x="0" y="0" font-family="Liberation Serif" font-size="11.2" text-anchor="middle" fill="#505050">m</text>
<text transform="translate(566.7,250.6) scale(0.893,1)" x="0" y="0" font-family="Liberation Serif" font-size="11.2" text-anchor="middle" fill="#505050">p</text>
<text transform="translate(591.7,250.6) scale(0.893,1)" x="0" y="0" font-family="Liberation Serif" font-size="11.2" text-anchor="middle" fill="#505050">u</text>
<line x1="53.06" y1="490.8" x2="53.06" y2="648" stroke="#a8343c" stroke-width="1.25" stroke-dasharray="6.3 2"/>
<line x1="75.51" y1="490.8" x2="75.51" y2="648" stroke="#a8343c" stroke-width="1.25" stroke-dasharray="6.3 2"/>
<line x1="97.97" y1="490.8" x2="97.97" y2="648" stroke="#a8343c" stroke-width="1.25" stroke-dasharray="6.3 2"/>
<line x1="120.43" y1="490.8" x2="120.43" y2="648" stroke="#a8343c" stroke-width="1.25" stroke-dasharray="6.3 2"/>
<line x1="142.89" y1="490.8" x2="142.89" y2="648" stroke="#a8343c" stroke-width="1.25" stroke-dasharray="6.3 2"/>
<line x1="165.34" y1="490.8" x2="165.34" y2="648" stroke="#a8343c" stroke-width="1.25" stroke-dasharray="6.3 2"/>
<line x1="170.96" y1="490.8" x2="170.96" y2="648" stroke="#a8343c" stroke-width="1.25" stroke-dasharray="6.3 2"/>
<line x1="30.6" y1="621.8" x2="187.8" y2="621.8" stroke="#a8343c" stroke-width="1.25" stroke-dasharray="6.3 2"/>
<line x1="30.6" y1="595.6" x2="187.8" y2="595.6" stroke="#a8343c" stroke-width="1.25" stroke-dasharray="6.3 2"/>
<line x1="30.6" y1="569.4" x2="187.8" y2="569.4" stroke="#a8343c" stroke-width="1.25" stroke-dasharray="6.3 2"/>
<line x1="30.6" y1="543.2" x2="187.8" y2="543.2" stroke="#a8343c" stroke-width="1.25" stroke-dasharray="6.3 2"/>
<line x1="30.6" y1="517" x2="187.8" y2="517" stroke="#a8343c" stroke-width="1.25" stroke-dasharray="6.3 2"/>
<rect x="30.6" y="490.8" width="157.2" height="157.2" fill="none" stroke="#b0141a" stroke-width="1.55"/>
<line x1="29.85" y1="490.8" x2="188.55" y2="490.8" stroke="#b0141a" stroke-width="2.1"/>
<text x="28.3" y="649.3" font-family="Liberation Serif" font-size="7.2" text-anchor="end" fill="#000" textLength="3.24" lengthAdjust="spacingAndGlyphs">0</text>
<text x="28.3" y="623.1" font-family="Liberation Serif" font-size="7.2" text-anchor="end" fill="#000" textLength="8.1" lengthAdjust="spacingAndGlyphs">1.0</text>
<text x="28.3" y="596.9" font-family="Liberation Serif" font-size="7.2" text-anchor="end" fill="#000" textLength="8.1" lengthAdjust="spacingAndGlyphs">1.1</text>
<text x="28.3" y="570.7" font-family="Liberation Serif" font-size="7.2" text-anchor="end" fill="#000" textLength="8.1" lengthAdjust="spacingAndGlyphs">1.2</text>
<text x="28.3" y="544.5" font-family="Liberation Serif" font-size="7.2" text-anchor="end" fill="#000" textLength="8.1" lengthAdjust="spacingAndGlyphs">1.3</text>
<text x="28.3" y="518.3" font-family="Liberation Serif" font-size="7.2" text-anchor="end" fill="#000" textLength="8.1" lengthAdjust="spacingAndGlyphs">1.4</text>
<text x="28.3" y="492.1" font-family="Liberation Serif" font-size="7.2" text-anchor="end" fill="#000" textLength="8.1" lengthAdjust="spacingAndGlyphs">1.5</text>
<path d="M30.6,525.9 L170.96,577.4" fill="none" stroke="#9a1016" stroke-width="1.45" stroke-linejoin="round"/>
<line x1="170.96" y1="575.2" x2="170.96" y2="579.6" stroke="#9a1016" stroke-width="0.9"/>
<path d="M30.6,531.5 L170.96,583.3" fill="none" stroke="#9a1016" stroke-width="1.45" stroke-linejoin="round"/>
<line x1="170.96" y1="581.1" x2="170.96" y2="585.5" stroke="#9a1016" stroke-width="0.9"/>
<path d="M30.6,535.9 L170.96,587.4" fill="none" stroke="#9a1016" stroke-width="1.45" stroke-linejoin="round"/>
<line x1="170.96" y1="585.2" x2="170.96" y2="589.6" stroke="#9a1016" stroke-width="0.9"/>
<path d="M30.6,542.7 L170.96,594.2" fill="none" stroke="#9a1016" stroke-width="1.45" stroke-linejoin="round"/>
<line x1="170.96" y1="592" x2="170.96" y2="596.4" stroke="#9a1016" stroke-width="0.9"/>
<path d="M30.6,547.2 L170.96,598" fill="none" stroke="#9a1016" stroke-width="1.45" stroke-linejoin="round"/>
<line x1="170.96" y1="595.8" x2="170.96" y2="600.2" stroke="#9a1016" stroke-width="0.9"/>
<rect x="171" y="594.2" width="15.8" height="3" fill="#fff"/>
<text x="185.7" y="580.9" font-family="Liberation Sans" font-size="5.6" text-anchor="end" fill="#000" textLength="13.9" lengthAdjust="spacingAndGlyphs" stroke="#000" stroke-width="0.05">50mA</text>
<text x="185.7" y="586.5" font-family="Liberation Sans" font-size="5.6" text-anchor="end" fill="#000" textLength="13.9" lengthAdjust="spacingAndGlyphs" stroke="#000" stroke-width="0.05">30mA</text>
<text x="185.7" y="590.6" font-family="Liberation Sans" font-size="5.6" text-anchor="end" fill="#000" textLength="13.9" lengthAdjust="spacingAndGlyphs" stroke="#000" stroke-width="0.05">20mA</text>
<text x="184.2" y="598" font-family="Liberation Sans" font-size="5.6" text-anchor="end" fill="#000" textLength="12.4" lengthAdjust="spacingAndGlyphs" stroke="#000" stroke-width="0.05">10mA</text>
<text x="185.7" y="602.4" font-family="Liberation Sans" font-size="5.6" text-anchor="end" fill="#000" textLength="10.4" lengthAdjust="spacingAndGlyphs" stroke="#000" stroke-width="0.05">5mA</text>
<text x="30.6" y="657.2" font-family="Liberation Serif" font-size="7.2" text-anchor="middle" fill="#000" textLength="8.64" lengthAdjust="spacingAndGlyphs">-40</text>
<text x="53.06" y="657.2" font-family="Liberation Serif" font-size="7.2" text-anchor="middle" fill="#000" textLength="8.64" lengthAdjust="spacingAndGlyphs">-20</text>
<text x="75.51" y="657.2" font-family="Liberation Serif" font-size="7.2" text-anchor="middle" fill="#000" textLength="3.24" lengthAdjust="spacingAndGlyphs">0</text>
<text x="97.97" y="657.2" font-family="Liberation Serif" font-size="7.2" text-anchor="middle" fill="#000" textLength="6.48" lengthAdjust="spacingAndGlyphs">20</text>
<text x="120.43" y="657.2" font-family="Liberation Serif" font-size="7.2" text-anchor="middle" fill="#000" textLength="6.48" lengthAdjust="spacingAndGlyphs">40</text>
<text x="142.89" y="657.2" font-family="Liberation Serif" font-size="7.2" text-anchor="middle" fill="#000" textLength="6.48" lengthAdjust="spacingAndGlyphs">60</text>
<text x="170.96" y="657.2" font-family="Liberation Serif" font-size="7.2" text-anchor="middle" fill="#000" textLength="6.48" lengthAdjust="spacingAndGlyphs">85</text>
<text x="187.8" y="657.2" font-family="Liberation Serif" font-size="7.2" text-anchor="middle" fill="#000" textLength="9.72" lengthAdjust="spacingAndGlyphs">100</text>
<text x="111" y="670.4" font-family="Liberation Sans" font-size="7.6" text-anchor="middle" dominant-baseline="central" fill="#000" textLength="78" lengthAdjust="spacingAndGlyphs">Ambient temperature (°C)</text>
<text x="0" y="0" transform="translate(9.6,569.2) rotate(-90)" font-family="Liberation Sans" font-size="7.6" text-anchor="middle" dominant-baseline="central" fill="#000" textLength="75.7" lengthAdjust="spacingAndGlyphs">LED forward voltage (V)</text>
<text x="54 59 64 69 74 79 84 89 94 99 104 109 114 119 124 129 134 139 144 149 154 159 164" y="468.3" font-family="Liberation Serif" font-size="11.2" text-anchor="middle" fill="#505050" xml:space="preserve">    f r ar    lta e  s.</text>
<text transform="translate(54,468.3) scale(0.731,1)" x="0" y="0" font-family="Liberation Serif" font-size="11.2" text-anchor="middle" fill="#505050">L</text>
<text transform="translate(59,468.3) scale(0.731,1)" x="0" y="0" font-family="Liberation Serif" font-size="11.2" text-anchor="middle" fill="#505050">E</text>
<text transform="translate(64,468.3) scale(0.618,1)" x="0" y="0" font-family="Liberation Serif" font-size="11.2" text-anchor="middle" fill="#505050">D</text>
<text transform="translate(79,468.3) scale(0.893,1)" x="0" y="0" font-family="Liberation Serif" font-size="11.2" text-anchor="middle" fill="#505050">o</text>
<text transform="translate(89,468.3) scale(0.618,1)" x="0" y="0" font-family="Liberation Serif" font-size="11.2" text-anchor="middle" fill="#505050">w</text>
<text transform="translate(104,468.3) scale(0.893,1)" x="0" y="0" font-family="Liberation Serif" font-size="11.2" text-anchor="middle" fill="#505050">d</text>
<text transform="translate(114,468.3) scale(0.893,1)" x="0" y="0" font-family="Liberation Serif" font-size="11.2" text-anchor="middle" fill="#505050">v</text>
<text transform="translate(119,468.3) scale(0.893,1)" x="0" y="0" font-family="Liberation Serif" font-size="11.2" text-anchor="middle" fill="#505050">o</text>
<text transform="translate(139,468.3) scale(0.893,1)" x="0" y="0" font-family="Liberation Serif" font-size="11.2" text-anchor="middle" fill="#505050">g</text>
<text transform="translate(154,468.3) scale(0.618,1)" x="0" y="0" font-family="Liberation Serif" font-size="11.2" text-anchor="middle" fill="#505050">V</text>
<text x="54 59 64 69 74 79 84 89 94 99 104 109 114 119 124 129 134 139 144" y="479.3" font-family="Liberation Serif" font-size="11.2" text-anchor="middle" fill="#505050" xml:space="preserve">   ie t te  erat re</text>
<text transform="translate(54,479.3) scale(0.618,1)" x="0" y="0" font-family="Liberation Serif" font-size="11.2" text-anchor="middle" fill="#505050">A</text>
<text transform="translate(59,479.3) scale(0.574,1)" x="0" y="0" font-family="Liberation Serif" font-size="11.2" text-anchor="middle" fill="#505050">m</text>
<text transform="translate(64,479.3) scale(0.893,1)" x="0" y="0" font-family="Liberation Serif" font-size="11.2" text-anchor="middle" fill="#505050">b</text>
<text transform="translate(79,479.3) scale(0.893,1)" x="0" y="0" font-family="Liberation Serif" font-size="11.2" text-anchor="middle" fill="#505050">n</text>
<text transform="translate(104,479.3) scale(0.574,1)" x="0" y="0" font-family="Liberation Serif" font-size="11.2" text-anchor="middle" fill="#505050">m</text>
<text transform="translate(109,479.3) scale(0.893,1)" x="0" y="0" font-family="Liberation Serif" font-size="11.2" text-anchor="middle" fill="#505050">p</text>
<text transform="translate(134,479.3) scale(0.893,1)" x="0" y="0" font-family="Liberation Serif" font-size="11.2" text-anchor="middle" fill="#505050">u</text>
<line x1="274.73" y1="490.8" x2="274.73" y2="648.5" stroke="#bc4852" stroke-width="1.25" stroke-dasharray="6.3 2"/>
<line x1="287.87" y1="490.8" x2="287.87" y2="648.5" stroke="#bc4852" stroke-width="1.25" stroke-dasharray="6.3 2"/>
<line x1="301" y1="490.8" x2="301" y2="648.5" stroke="#bc4852" stroke-width="1.25" stroke-dasharray="6.3 2"/>
<line x1="314.13" y1="490.8" x2="314.13" y2="648.5" stroke="#bc4852" stroke-width="1.25" stroke-dasharray="6.3 2"/>
<line x1="327.27" y1="490.8" x2="327.27" y2="648.5" stroke="#bc4852" stroke-width="1.25" stroke-dasharray="6.3 2"/>
<line x1="353.53" y1="490.8" x2="353.53" y2="648.5" stroke="#bc4852" stroke-width="1.25" stroke-dasharray="6.3 2"/>
<line x1="366.67" y1="490.8" x2="366.67" y2="648.5" stroke="#bc4852" stroke-width="1.25" stroke-dasharray="6.3 2"/>
<line x1="379.8" y1="490.8" x2="379.8" y2="648.5" stroke="#bc4852" stroke-width="1.25" stroke-dasharray="6.3 2"/>
<line x1="392.93" y1="490.8" x2="392.93" y2="648.5" stroke="#bc4852" stroke-width="1.25" stroke-dasharray="6.3 2"/>
<line x1="406.07" y1="490.8" x2="406.07" y2="648.5" stroke="#bc4852" stroke-width="1.25" stroke-dasharray="6.3 2"/>
<line x1="261.6" y1="503.94" x2="419.2" y2="503.94" stroke="#bc4852" stroke-width="1.25" stroke-dasharray="6.3 2"/>
<line x1="261.6" y1="517.08" x2="419.2" y2="517.08" stroke="#bc4852" stroke-width="1.25" stroke-dasharray="6.3 2"/>
<line x1="261.6" y1="530.23" x2="419.2" y2="530.23" stroke="#bc4852" stroke-width="1.25" stroke-dasharray="6.3 2"/>
<line x1="261.6" y1="543.37" x2="419.2" y2="543.37" stroke="#bc4852" stroke-width="1.25" stroke-dasharray="6.3 2"/>
<line x1="261.6" y1="556.51" x2="419.2" y2="556.51" stroke="#bc4852" stroke-width="1.25" stroke-dasharray="6.3 2"/>
<line x1="261.6" y1="582.79" x2="419.2" y2="582.79" stroke="#bc4852" stroke-width="1.25" stroke-dasharray="6.3 2"/>
<line x1="261.6" y1="595.93" x2="419.2" y2="595.93" stroke="#bc4852" stroke-width="1.25" stroke-dasharray="6.3 2"/>
<line x1="261.6" y1="609.08" x2="419.2" y2="609.08" stroke="#bc4852" stroke-width="1.25" stroke-dasharray="6.3 2"/>
<line x1="261.6" y1="622.22" x2="419.2" y2="622.22" stroke="#bc4852" stroke-width="1.25" stroke-dasharray="6.3 2"/>
<line x1="261.6" y1="635.36" x2="419.2" y2="635.36" stroke="#bc4852" stroke-width="1.25" stroke-dasharray="6.3 2"/>
<rect x="261.6" y="490.8" width="157.6" height="157.7" fill="none" stroke="#b0141a" stroke-width="1.55"/>
<line x1="260.85" y1="490.8" x2="419.95" y2="490.8" stroke="#b0141a" stroke-width="2.1"/>
<line x1="340.4" y1="490.8" x2="340.4" y2="648.5" stroke="#9a1a1e" stroke-width="1.9"/>
<line x1="261.6" y1="569.65" x2="419.2" y2="569.65" stroke="#9a1a1e" stroke-width="1.9"/>
<path d="M315.45,635.36 L326.22,595.93 L340.4,569.65 L356.16,542.05 L365.35,503.94" fill="none" stroke="#c0141c" stroke-width="1.7" stroke-linejoin="round"/>
<text x="275.53" y="568.05" font-family="Liberation Serif" font-size="7.2" text-anchor="middle" fill="#000" textLength="5.4" lengthAdjust="spacingAndGlyphs">-5</text>
<text x="288.67" y="568.05" font-family="Liberation Serif" font-size="7.2" text-anchor="middle" fill="#000" textLength="5.4" lengthAdjust="spacingAndGlyphs">-4</text>
<text x="301.8" y="568.05" font-family="Liberation Serif" font-size="7.2" text-anchor="middle" fill="#000" textLength="5.4" lengthAdjust="spacingAndGlyphs">-3</text>
<text x="314.93" y="568.05" font-family="Liberation Serif" font-size="7.2" text-anchor="middle" fill="#000" textLength="5.4" lengthAdjust="spacingAndGlyphs">-2</text>
<text x="328.07" y="568.05" font-family="Liberation Serif" font-size="7.2" text-anchor="middle" fill="#000" textLength="5.4" lengthAdjust="spacingAndGlyphs">-1</text>
<text x="353.13" y="576.55" font-family="Liberation Serif" font-size="7.2" text-anchor="middle" fill="#000" textLength="3.24" lengthAdjust="spacingAndGlyphs">1</text>
<text x="366.27" y="576.55" font-family="Liberation Serif" font-size="7.2" text-anchor="middle" fill="#000" textLength="3.24" lengthAdjust="spacingAndGlyphs">2</text>
<text x="379.4" y="576.55" font-family="Liberation Serif" font-size="7.2" text-anchor="middle" fill="#000" textLength="3.24" lengthAdjust="spacingAndGlyphs">3</text>
<text x="392.53" y="576.55" font-family="Liberation Serif" font-size="7.2" text-anchor="middle" fill="#000" textLength="3.24" lengthAdjust="spacingAndGlyphs">4</text>
<text x="405.67" y="576.55" font-family="Liberation Serif" font-size="7.2" text-anchor="middle" fill="#000" textLength="3.24" lengthAdjust="spacingAndGlyphs">5</text>
<text x="339" y="558.61" font-family="Liberation Serif" font-size="7.2" text-anchor="end" fill="#000" textLength="6.48" lengthAdjust="spacingAndGlyphs">20</text>
<text x="339" y="545.47" font-family="Liberation Serif" font-size="7.2" text-anchor="end" fill="#000" textLength="6.48" lengthAdjust="spacingAndGlyphs">40</text>
<text x="339" y="532.33" font-family="Liberation Serif" font-size="7.2" text-anchor="end" fill="#000" textLength="6.48" lengthAdjust="spacingAndGlyphs">60</text>
<text x="339" y="519.18" font-family="Liberation Serif" font-size="7.2" text-anchor="end" fill="#000" textLength="6.48" lengthAdjust="spacingAndGlyphs">80</text>
<text x="339" y="506.04" font-family="Liberation Serif" font-size="7.2" text-anchor="end" fill="#000" textLength="9.72" lengthAdjust="spacingAndGlyphs">100</text>
<text x="342.2" y="584.89" font-family="Liberation Serif" font-size="7.2" text-anchor="start" fill="#000" textLength="8.64" lengthAdjust="spacingAndGlyphs">-20</text>
<text x="342.2" y="598.03" font-family="Liberation Serif" font-size="7.2" text-anchor="start" fill="#000" textLength="8.64" lengthAdjust="spacingAndGlyphs">-40</text>
<text x="342.2" y="611.17" font-family="Liberation Serif" font-size="7.2" text-anchor="start" fill="#000" textLength="8.64" lengthAdjust="spacingAndGlyphs">-60</text>
<text x="342.2" y="624.32" font-family="Liberation Serif" font-size="7.2" text-anchor="start" fill="#000" textLength="8.64" lengthAdjust="spacingAndGlyphs">-80</text>
<text x="342.2" y="637.46" font-family="Liberation Serif" font-size="7.2" text-anchor="start" fill="#000" textLength="11.88" lengthAdjust="spacingAndGlyphs">-100</text>
<text x="0" y="0" transform="translate(323.4,526.8) rotate(-90)" font-family="Liberation Serif" font-size="8.1" text-anchor="middle" dominant-baseline="central" fill="#000" textLength="37.6" lengthAdjust="spacingAndGlyphs" font-weight="bold">Current, A</text>
<text x="367.6" y="585" font-family="Liberation Serif" font-size="8.1" text-anchor="start" fill="#000" textLength="35.4" lengthAdjust="spacingAndGlyphs" font-weight="bold">Voltage, V</text>
<text x="250.7 255.7 260.7 265.7 270.7 275.7 280.7 285.7 290.7 295.7 300.7 305.7 310.7 315.7 320.7 325.7 330.7 335.7 340.7 345.7 350.7 355.7 360.7 365.7 370.7 375.7 380.7 385.7 390.7 395.7 400.7 405.7 410.7 415.7 420.7 425.7" y="468.3" font-family="Liberation Serif" font-size="11.2" text-anchor="middle" fill="#505050" xml:space="preserve">  lta e  s. c rre  t c aracteristics</text>
<text transform="translate(250.7,468.3) scale(0.618,1)" x="0" y="0" font-family="Liberation Serif" font-size="11.2" text-anchor="middle" fill="#505050">V</text>
<text transform="translate(255.7,468.3) scale(0.893,1)" x="0" y="0" font-family="Liberation Serif" font-size="11.2" text-anchor="middle" fill="#505050">o</text>
<text transform="translate(275.7,468.3) scale(0.893,1)" x="0" y="0" font-family="Liberation Serif" font-size="11.2" text-anchor="middle" fill="#505050">g</text>
<text transform="translate(290.7,468.3) scale(0.618,1)" x="0" y="0" font-family="Liberation Serif" font-size="11.2" text-anchor="middle" fill="#505050">V</text>
<text transform="translate(315.7,468.3) scale(0.893,1)" x="0" y="0" font-family="Liberation Serif" font-size="11.2" text-anchor="middle" fill="#505050">u</text>
<text transform="translate(335.7,468.3) scale(0.893,1)" x="0" y="0" font-family="Liberation Serif" font-size="11.2" text-anchor="middle" fill="#505050">n</text>
<text transform="translate(340.7,468.3) scale(0.893,1)" x="0" y="0" font-family="Liberation Serif" font-size="11.2" text-anchor="middle" fill="#505050">n</text>
<text transform="translate(360.7,468.3) scale(0.893,1)" x="0" y="0" font-family="Liberation Serif" font-size="11.2" text-anchor="middle" fill="#505050">h</text>
<text x="250.7 255.7 260.7 265.7 270.7 275.7 280.7 285.7 290.7 295.7 300.7 305.7 310.7 315.7 320.7 325.7 330.7 335.7 340.7 345.7 350.7 355.7 360.7 365.7" y="479.3" font-family="Liberation Serif" font-size="11.2" text-anchor="middle" fill="#505050" xml:space="preserve"> f   t  t at       rti  </text>
<text transform="translate(250.7,479.3) scale(0.893,1)" x="0" y="0" font-family="Liberation Serif" font-size="11.2" text-anchor="middle" fill="#505050">o</text>
<text transform="translate(265.7,479.3) scale(0.893,1)" x="0" y="0" font-family="Liberation Serif" font-size="11.2" text-anchor="middle" fill="#505050">o</text>
<text transform="translate(270.7,479.3) scale(0.893,1)" x="0" y="0" font-family="Liberation Serif" font-size="11.2" text-anchor="middle" fill="#505050">u</text>
<text transform="translate(280.7,479.3) scale(0.893,1)" x="0" y="0" font-family="Liberation Serif" font-size="11.2" text-anchor="middle" fill="#505050">p</text>
<text transform="translate(285.7,479.3) scale(0.893,1)" x="0" y="0" font-family="Liberation Serif" font-size="11.2" text-anchor="middle" fill="#505050">u</text>
<text transform="translate(315.7,479.3) scale(0.502,1)" x="0" y="0" font-family="Liberation Serif" font-size="11.2" text-anchor="middle" fill="#505050">M</text>
<text transform="translate(320.7,479.3) scale(0.618,1)" x="0" y="0" font-family="Liberation Serif" font-size="11.2" text-anchor="middle" fill="#505050">O</text>
<text transform="translate(325.7,479.3) scale(0.803,1)" x="0" y="0" font-family="Liberation Serif" font-size="11.2" text-anchor="middle" fill="#505050">S</text>
<text transform="translate(335.7,479.3) scale(0.893,1)" x="0" y="0" font-family="Liberation Serif" font-size="11.2" text-anchor="middle" fill="#505050">p</text>
<text transform="translate(340.7,479.3) scale(0.893,1)" x="0" y="0" font-family="Liberation Serif" font-size="11.2" text-anchor="middle" fill="#505050">o</text>
<text transform="translate(360.7,479.3) scale(0.893,1)" x="0" y="0" font-family="Liberation Serif" font-size="11.2" text-anchor="middle" fill="#505050">o</text>
<text transform="translate(365.7,479.3) scale(0.893,1)" x="0" y="0" font-family="Liberation Serif" font-size="11.2" text-anchor="middle" fill="#505050">n</text>
<line x1="508.31" y1="490.8" x2="508.31" y2="648" stroke="#a8343c" stroke-width="1.25" stroke-dasharray="6.3 2"/>
<line x1="524.02" y1="490.8" x2="524.02" y2="648" stroke="#a8343c" stroke-width="1.25" stroke-dasharray="6.3 2"/>
<line x1="539.73" y1="490.8" x2="539.73" y2="648" stroke="#a8343c" stroke-width="1.25" stroke-dasharray="6.3 2"/>
<line x1="555.44" y1="490.8" x2="555.44" y2="648" stroke="#a8343c" stroke-width="1.25" stroke-dasharray="6.3 2"/>
<line x1="571.15" y1="490.8" x2="571.15" y2="648" stroke="#a8343c" stroke-width="1.25" stroke-dasharray="6.3 2"/>
<line x1="586.86" y1="490.8" x2="586.86" y2="648" stroke="#a8343c" stroke-width="1.25" stroke-dasharray="6.3 2"/>
<line x1="602.57" y1="490.8" x2="602.57" y2="648" stroke="#a8343c" stroke-width="1.25" stroke-dasharray="6.3 2"/>
<line x1="618.28" y1="490.8" x2="618.28" y2="648" stroke="#a8343c" stroke-width="1.25" stroke-dasharray="6.3 2"/>
<line x1="633.99" y1="490.8" x2="633.99" y2="648" stroke="#a8343c" stroke-width="1.25" stroke-dasharray="6.3 2"/>
<line x1="492.6" y1="505.09" x2="649.7" y2="505.09" stroke="#a8343c" stroke-width="1.25" stroke-dasharray="6.3 2"/>
<line x1="492.6" y1="519.38" x2="649.7" y2="519.38" stroke="#a8343c" stroke-width="1.25" stroke-dasharray="6.3 2"/>
<line x1="492.6" y1="533.67" x2="649.7" y2="533.67" stroke="#a8343c" stroke-width="1.25" stroke-dasharray="6.3 2"/>
<line x1="492.6" y1="547.96" x2="649.7" y2="547.96" stroke="#a8343c" stroke-width="1.25" stroke-dasharray="6.3 2"/>
<line x1="492.6" y1="562.25" x2="649.7" y2="562.25" stroke="#a8343c" stroke-width="1.25" stroke-dasharray="6.3 2"/>
<line x1="492.6" y1="576.55" x2="649.7" y2="576.55" stroke="#a8343c" stroke-width="1.25" stroke-dasharray="6.3 2"/>
<line x1="492.6" y1="590.84" x2="649.7" y2="590.84" stroke="#a8343c" stroke-width="1.25" stroke-dasharray="6.3 2"/>
<line x1="492.6" y1="605.13" x2="649.7" y2="605.13" stroke="#a8343c" stroke-width="1.25" stroke-dasharray="6.3 2"/>
<line x1="492.6" y1="619.42" x2="649.7" y2="619.42" stroke="#a8343c" stroke-width="1.25" stroke-dasharray="6.3 2"/>
<line x1="492.6" y1="633.71" x2="649.7" y2="633.71" stroke="#a8343c" stroke-width="1.25" stroke-dasharray="6.3 2"/>
<rect x="492.6" y="490.8" width="157.1" height="157.2" fill="none" stroke="#b0141a" stroke-width="1.55"/>
<line x1="491.85" y1="490.8" x2="650.45" y2="490.8" stroke="#b0141a" stroke-width="2.1"/>
<text x="487.4" y="507.19" font-family="Liberation Serif" font-size="7.2" text-anchor="end" fill="#000" textLength="6.48" lengthAdjust="spacingAndGlyphs">10</text>
<text x="487.6" y="504.19" font-family="Liberation Serif" font-size="3.8" text-anchor="start" fill="#000" stroke="#000" stroke-width="0.05">-6</text>
<text x="487.4" y="550.06" font-family="Liberation Serif" font-size="7.2" text-anchor="end" fill="#000" textLength="6.48" lengthAdjust="spacingAndGlyphs">10</text>
<text x="487.6" y="547.06" font-family="Liberation Serif" font-size="3.8" text-anchor="start" fill="#000" stroke="#000" stroke-width="0.05">-8</text>
<text x="487.4" y="592.94" font-family="Liberation Serif" font-size="7.2" text-anchor="end" fill="#000" textLength="6.48" lengthAdjust="spacingAndGlyphs">10</text>
<text x="487.6" y="589.94" font-family="Liberation Serif" font-size="3.8" text-anchor="start" fill="#000" stroke="#000" stroke-width="0.05">-9</text>
<text x="487.4" y="635.81" font-family="Liberation Serif" font-size="7.2" text-anchor="end" fill="#000" textLength="6.48" lengthAdjust="spacingAndGlyphs">10</text>
<text x="487.6" y="632.81" font-family="Liberation Serif" font-size="3.8" text-anchor="start" fill="#000" stroke="#000" stroke-width="0.05">-12</text>
<path d="M493,626 C493.17,625 493.62,621.33 494,620 C494.38,618.67 494.63,618.67 495.3,618 C495.97,617.33 497,616.57 498,616 C499,615.43 499.53,615.17 501.3,614.6 C503.07,614.03 504.83,613.48 508.6,612.6 C512.37,611.72 518.7,610.35 523.9,609.3 C529.1,608.25 534.72,606.93 539.8,606.3 C544.88,605.67 549.12,605.78 554.4,605.5 C559.68,605.22 566.07,604.83 571.5,604.6 C576.93,604.37 581.78,604.32 587,604.1 C592.22,603.88 597.53,603.55 602.8,603.3 C608.07,603.05 610.78,602.83 618.6,602.6 C626.42,602.37 644.52,602.02 649.7,601.9" fill="none" stroke="#9a1016" stroke-width="1.8" stroke-linejoin="round" stroke-linecap="round"/>
<text x="492.6" y="657.4" font-family="Liberation Serif" font-size="7.2" text-anchor="middle" fill="#000" textLength="3.24" lengthAdjust="spacingAndGlyphs">0</text>
<text x="524.02" y="657.4" font-family="Liberation Serif" font-size="7.2" text-anchor="middle" fill="#000" textLength="6.48" lengthAdjust="spacingAndGlyphs">20</text>
<text x="555.44" y="657.4" font-family="Liberation Serif" font-size="7.2" text-anchor="middle" fill="#000" textLength="6.48" lengthAdjust="spacingAndGlyphs">40</text>
<text x="586.86" y="657.4" font-family="Liberation Serif" font-size="7.2" text-anchor="middle" fill="#000" textLength="6.48" lengthAdjust="spacingAndGlyphs">60</text>
<text x="618.28" y="657.4" font-family="Liberation Serif" font-size="7.2" text-anchor="middle" fill="#000" textLength="6.48" lengthAdjust="spacingAndGlyphs">80</text>
<text x="649.7" y="657.4" font-family="Liberation Serif" font-size="7.2" text-anchor="middle" fill="#000" textLength="9.72" lengthAdjust="spacingAndGlyphs">100</text>
<text x="575.35" y="670.6" font-family="Liberation Sans" font-size="7.6" text-anchor="middle" dominant-baseline="central" fill="#000" textLength="50.9" lengthAdjust="spacingAndGlyphs">Load voltage (v)</text>
<text x="0" y="0" transform="translate(472,561.8) rotate(-90)" font-family="Liberation Sans" font-size="7.6" text-anchor="middle" dominant-baseline="central" fill="#000" textLength="88" lengthAdjust="spacingAndGlyphs">Off state leakage current (A)</text>
<text x="503.3 508.3 513.3 518.3 523.3 528.3 533.3 538.3 543.3 548.3 553.3 558.3 563.3 568.3 573.3 578.3 583.3 588.3 593.3 598.3 603.3 608.3 613.3 618.3 623.3 628.3 633.3 638.3 643.3" y="468.3" font-family="Liberation Serif" font-size="11.2" text-anchor="middle" fill="#505050" xml:space="preserve"> ff state lea a e c rre t  s.</text>
<text transform="translate(503.3,468.3) scale(0.618,1)" x="0" y="0" font-family="Liberation Serif" font-size="11.2" text-anchor="middle" fill="#505050">O</text>
<text transform="translate(568.3,468.3) scale(0.893,1)" x="0" y="0" font-family="Liberation Serif" font-size="11.2" text-anchor="middle" fill="#505050">k</text>
<text transform="translate(578.3,468.3) scale(0.893,1)" x="0" y="0" font-family="Liberation Serif" font-size="11.2" text-anchor="middle" fill="#505050">g</text>
<text transform="translate(598.3,468.3) scale(0.893,1)" x="0" y="0" font-family="Liberation Serif" font-size="11.2" text-anchor="middle" fill="#505050">u</text>
<text transform="translate(618.3,468.3) scale(0.893,1)" x="0" y="0" font-family="Liberation Serif" font-size="11.2" text-anchor="middle" fill="#505050">n</text>
<text transform="translate(633.3,468.3) scale(0.618,1)" x="0" y="0" font-family="Liberation Serif" font-size="11.2" text-anchor="middle" fill="#505050">V</text>
<text x="503.3 508.3 513.3 518.3 523.3 528.3 533.3 538.3 543.3 548.3 553.3 558.3 563.3 568.3 573.3 578.3 583.3 588.3 593.3 598.3 603.3 608.3 613.3 618.3 623.3 628.3 633.3 638.3" y="479.3" font-family="Liberation Serif" font-size="11.2" text-anchor="middle" fill="#505050" xml:space="preserve">  a    lta e c aracteristics</text>
<text transform="translate(503.3,479.3) scale(0.731,1)" x="0" y="0" font-family="Liberation Serif" font-size="11.2" text-anchor="middle" fill="#505050">L</text>
<text transform="translate(508.3,479.3) scale(0.893,1)" x="0" y="0" font-family="Liberation Serif" font-size="11.2" text-anchor="middle" fill="#505050">o</text>
<text transform="translate(518.3,479.3) scale(0.893,1)" x="0" y="0" font-family="Liberation Serif" font-size="11.2" text-anchor="middle" fill="#505050">d</text>
<text transform="translate(528.3,479.3) scale(0.893,1)" x="0" y="0" font-family="Liberation Serif" font-size="11.2" text-anchor="middle" fill="#505050">v</text>
<text transform="translate(533.3,479.3) scale(0.893,1)" x="0" y="0" font-family="Liberation Serif" font-size="11.2" text-anchor="middle" fill="#505050">o</text>
<text transform="translate(553.3,479.3) scale(0.893,1)" x="0" y="0" font-family="Liberation Serif" font-size="11.2" text-anchor="middle" fill="#505050">g</text>
<text transform="translate(573.3,479.3) scale(0.893,1)" x="0" y="0" font-family="Liberation Serif" font-size="11.2" text-anchor="middle" fill="#505050">h</text>
<line x1="56.8" y1="719.5" x2="56.8" y2="876.9" stroke="#a8343c" stroke-width="1.25" stroke-dasharray="6.3 2"/>
<line x1="83" y1="719.5" x2="83" y2="876.9" stroke="#a8343c" stroke-width="1.25" stroke-dasharray="6.3 2"/>
<line x1="109.2" y1="719.5" x2="109.2" y2="876.9" stroke="#a8343c" stroke-width="1.25" stroke-dasharray="6.3 2"/>
<line x1="135.4" y1="719.5" x2="135.4" y2="876.9" stroke="#a8343c" stroke-width="1.25" stroke-dasharray="6.3 2"/>
<line x1="161.6" y1="719.5" x2="161.6" y2="876.9" stroke="#a8343c" stroke-width="1.25" stroke-dasharray="6.3 2"/>
<line x1="30.6" y1="850.67" x2="187.8" y2="850.67" stroke="#a8343c" stroke-width="1.25" stroke-dasharray="6.3 2"/>
<line x1="30.6" y1="824.43" x2="187.8" y2="824.43" stroke="#a8343c" stroke-width="1.25" stroke-dasharray="6.3 2"/>
<line x1="30.6" y1="798.2" x2="187.8" y2="798.2" stroke="#a8343c" stroke-width="1.25" stroke-dasharray="6.3 2"/>
<line x1="30.6" y1="771.97" x2="187.8" y2="771.97" stroke="#a8343c" stroke-width="1.25" stroke-dasharray="6.3 2"/>
<line x1="30.6" y1="745.73" x2="187.8" y2="745.73" stroke="#a8343c" stroke-width="1.25" stroke-dasharray="6.3 2"/>
<rect x="30.6" y="719.5" width="157.2" height="157.4" fill="none" stroke="#b0141a" stroke-width="1.55"/>
<line x1="29.85" y1="719.5" x2="188.55" y2="719.5" stroke="#b0141a" stroke-width="2.1"/>
<text x="28.3" y="878.2" font-family="Liberation Serif" font-size="7.2" text-anchor="end" fill="#000" textLength="3.24" lengthAdjust="spacingAndGlyphs">0</text>
<text x="28.3" y="851.97" font-family="Liberation Serif" font-size="7.2" text-anchor="end" fill="#000" textLength="8.1" lengthAdjust="spacingAndGlyphs">0.2</text>
<text x="28.3" y="825.73" font-family="Liberation Serif" font-size="7.2" text-anchor="end" fill="#000" textLength="8.1" lengthAdjust="spacingAndGlyphs">0.4</text>
<text x="28.3" y="799.5" font-family="Liberation Serif" font-size="7.2" text-anchor="end" fill="#000" textLength="8.1" lengthAdjust="spacingAndGlyphs">0.6</text>
<text x="28.3" y="773.27" font-family="Liberation Serif" font-size="7.2" text-anchor="end" fill="#000" textLength="8.1" lengthAdjust="spacingAndGlyphs">0.8</text>
<text x="28.3" y="747.03" font-family="Liberation Serif" font-size="7.2" text-anchor="end" fill="#000" textLength="8.1" lengthAdjust="spacingAndGlyphs">1.0</text>
<text x="28.3" y="720.8" font-family="Liberation Serif" font-size="7.2" text-anchor="end" fill="#000" textLength="8.1" lengthAdjust="spacingAndGlyphs">1.2</text>
<path d="M34.5,776.7 C34.83,780.23 35.67,789.78 36.5,797.9 C37.33,806.02 38.63,816.9 39.5,825.4 C40.37,833.9 40.78,843.47 41.7,848.9 C42.62,854.33 43.58,855.6 45,858 C46.42,860.4 48.35,861.77 50.2,863.3 C52.05,864.83 53.92,866.17 56.1,867.2 C58.28,868.23 57.98,869.02 63.3,869.5 C68.62,869.98 76.05,869.88 88,870.1 C99.95,870.32 122.85,870.6 135,870.8 C147.15,871 156.58,871.22 160.9,871.3" fill="none" stroke="#9a1016" stroke-width="1.7" stroke-linejoin="round" stroke-linecap="round"/>
<text x="30.6" y="885.4" font-family="Liberation Serif" font-size="7.2" text-anchor="middle" fill="#000" textLength="3.24" lengthAdjust="spacingAndGlyphs">0</text>
<text x="56.8" y="885.4" font-family="Liberation Serif" font-size="7.2" text-anchor="middle" fill="#000" textLength="6.48" lengthAdjust="spacingAndGlyphs">10</text>
<text x="83" y="885.4" font-family="Liberation Serif" font-size="7.2" text-anchor="middle" fill="#000" textLength="6.48" lengthAdjust="spacingAndGlyphs">20</text>
<text x="109.2" y="885.4" font-family="Liberation Serif" font-size="7.2" text-anchor="middle" fill="#000" textLength="6.48" lengthAdjust="spacingAndGlyphs">30</text>
<text x="135.4" y="885.4" font-family="Liberation Serif" font-size="7.2" text-anchor="middle" fill="#000" textLength="6.48" lengthAdjust="spacingAndGlyphs">40</text>
<text x="161.6" y="885.4" font-family="Liberation Serif" font-size="7.2" text-anchor="middle" fill="#000" textLength="6.48" lengthAdjust="spacingAndGlyphs">50</text>
<text x="187.8" y="885.4" font-family="Liberation Serif" font-size="7.2" text-anchor="middle" fill="#000" textLength="6.48" lengthAdjust="spacingAndGlyphs">60</text>
<text x="108" y="899.2" font-family="Liberation Sans" font-size="7.6" text-anchor="middle" dominant-baseline="central" fill="#000" textLength="80.6" lengthAdjust="spacingAndGlyphs">LED forward current (mA)</text>
<text x="0" y="0" transform="translate(9.6,796.3) rotate(-90)" font-family="Liberation Sans" font-size="7.6" text-anchor="middle" dominant-baseline="central" fill="#000" textLength="55.6" lengthAdjust="spacingAndGlyphs">Turn on time (ms)</text>
<text x="39.7 44.7 49.7 54.7 59.7 64.7 69.7 74.7 79.7 84.7 89.7 94.7 99.7 104.7 109.7 114.7 119.7 124.7 129.7 134.7 139.7 144.7" y="698" font-family="Liberation Serif" font-size="11.2" text-anchor="middle" fill="#505050" xml:space="preserve">    f  ar  c rre t  s.</text>
<text transform="translate(39.7,698) scale(0.731,1)" x="0" y="0" font-family="Liberation Serif" font-size="11.2" text-anchor="middle" fill="#505050">L</text>
<text transform="translate(44.7,698) scale(0.731,1)" x="0" y="0" font-family="Liberation Serif" font-size="11.2" text-anchor="middle" fill="#505050">E</text>
<text transform="translate(49.7,698) scale(0.618,1)" x="0" y="0" font-family="Liberation Serif" font-size="11.2" text-anchor="middle" fill="#505050">D</text>
<text transform="translate(64.7,698) scale(0.893,1)" x="0" y="0" font-family="Liberation Serif" font-size="11.2" text-anchor="middle" fill="#505050">o</text>
<text transform="translate(69.7,698) scale(0.618,1)" x="0" y="0" font-family="Liberation Serif" font-size="11.2" text-anchor="middle" fill="#505050">w</text>
<text transform="translate(84.7,698) scale(0.893,1)" x="0" y="0" font-family="Liberation Serif" font-size="11.2" text-anchor="middle" fill="#505050">d</text>
<text transform="translate(99.7,698) scale(0.893,1)" x="0" y="0" font-family="Liberation Serif" font-size="11.2" text-anchor="middle" fill="#505050">u</text>
<text transform="translate(119.7,698) scale(0.893,1)" x="0" y="0" font-family="Liberation Serif" font-size="11.2" text-anchor="middle" fill="#505050">n</text>
<text transform="translate(134.7,698) scale(0.618,1)" x="0" y="0" font-family="Liberation Serif" font-size="11.2" text-anchor="middle" fill="#505050">V</text>
<text x="39.7 44.7 49.7 54.7 59.7 64.7 69.7 74.7 79.7 84.7 89.7 94.7 99.7 104.7 109.7 114.7 119.7 124.7 129.7 134.7 139.7 144.7 149.7 154.7 159.7 164.7 169.7 174.7" y="709" font-family="Liberation Serif" font-size="11.2" text-anchor="middle" fill="#505050" xml:space="preserve">t r     ti e c aracteristics</text>
<text transform="translate(44.7,709) scale(0.893,1)" x="0" y="0" font-family="Liberation Serif" font-size="11.2" text-anchor="middle" fill="#505050">u</text>
<text transform="translate(54.7,709) scale(0.893,1)" x="0" y="0" font-family="Liberation Serif" font-size="11.2" text-anchor="middle" fill="#505050">n</text>
<text transform="translate(64.7,709) scale(0.893,1)" x="0" y="0" font-family="Liberation Serif" font-size="11.2" text-anchor="middle" fill="#505050">o</text>
<text transform="translate(69.7,709) scale(0.893,1)" x="0" y="0" font-family="Liberation Serif" font-size="11.2" text-anchor="middle" fill="#505050">n</text>
<text transform="translate(89.7,709) scale(0.574,1)" x="0" y="0" font-family="Liberation Serif" font-size="11.2" text-anchor="middle" fill="#505050">m</text>
<text transform="translate(109.7,709) scale(0.893,1)" x="0" y="0" font-family="Liberation Serif" font-size="11.2" text-anchor="middle" fill="#505050">h</text>
<line x1="287.8" y1="719.5" x2="287.8" y2="876.9" stroke="#a8343c" stroke-width="1.25" stroke-dasharray="6.3 2"/>
<line x1="314" y1="719.5" x2="314" y2="876.9" stroke="#a8343c" stroke-width="1.25" stroke-dasharray="6.3 2"/>
<line x1="340.2" y1="719.5" x2="340.2" y2="876.9" stroke="#a8343c" stroke-width="1.25" stroke-dasharray="6.3 2"/>
<line x1="366.4" y1="719.5" x2="366.4" y2="876.9" stroke="#a8343c" stroke-width="1.25" stroke-dasharray="6.3 2"/>
<line x1="392.6" y1="719.5" x2="392.6" y2="876.9" stroke="#a8343c" stroke-width="1.25" stroke-dasharray="6.3 2"/>
<line x1="261.6" y1="850.67" x2="418.8" y2="850.67" stroke="#a8343c" stroke-width="1.25" stroke-dasharray="6.3 2"/>
<line x1="261.6" y1="824.43" x2="418.8" y2="824.43" stroke="#a8343c" stroke-width="1.25" stroke-dasharray="6.3 2"/>
<line x1="261.6" y1="798.2" x2="418.8" y2="798.2" stroke="#a8343c" stroke-width="1.25" stroke-dasharray="6.3 2"/>
<line x1="261.6" y1="771.97" x2="418.8" y2="771.97" stroke="#a8343c" stroke-width="1.25" stroke-dasharray="6.3 2"/>
<line x1="261.6" y1="745.73" x2="418.8" y2="745.73" stroke="#a8343c" stroke-width="1.25" stroke-dasharray="6.3 2"/>
<rect x="261.6" y="719.5" width="157.2" height="157.4" fill="none" stroke="#b0141a" stroke-width="1.55"/>
<line x1="260.85" y1="719.5" x2="419.55" y2="719.5" stroke="#b0141a" stroke-width="2.1"/>
<text x="259.3" y="878.2" font-family="Liberation Serif" font-size="7.2" text-anchor="end" fill="#000" textLength="3.24" lengthAdjust="spacingAndGlyphs">0</text>
<text x="259.3" y="851.97" font-family="Liberation Serif" font-size="7.2" text-anchor="end" fill="#000" textLength="11.34" lengthAdjust="spacingAndGlyphs">0.02</text>
<text x="259.3" y="825.73" font-family="Liberation Serif" font-size="7.2" text-anchor="end" fill="#000" textLength="11.34" lengthAdjust="spacingAndGlyphs">0.04</text>
<text x="259.3" y="799.5" font-family="Liberation Serif" font-size="7.2" text-anchor="end" fill="#000" textLength="11.34" lengthAdjust="spacingAndGlyphs">0.06</text>
<text x="259.3" y="773.27" font-family="Liberation Serif" font-size="7.2" text-anchor="end" fill="#000" textLength="11.34" lengthAdjust="spacingAndGlyphs">0.08</text>
<text x="259.3" y="747.03" font-family="Liberation Serif" font-size="7.2" text-anchor="end" fill="#000" textLength="11.34" lengthAdjust="spacingAndGlyphs">0.10</text>
<text x="259.3" y="720.8" font-family="Liberation Serif" font-size="7.2" text-anchor="end" fill="#000" textLength="11.34" lengthAdjust="spacingAndGlyphs">0.12</text>
<path d="M266.3,803.3 C267.07,804.62 269.53,809.08 270.9,811.2 C272.27,813.32 273.17,814.77 274.5,816 C275.83,817.23 277.57,818.4 278.9,818.6 C280.23,818.8 281.32,817.98 282.5,817.2 C283.68,816.42 284.25,815.48 286,813.9 C287.75,812.32 290.5,809.1 293,807.7 C295.5,806.3 297.33,806.38 301,805.5 C304.67,804.62 310.17,803.28 315,802.4 C319.83,801.52 325.83,800.83 330,800.2 C334.17,799.57 333.98,799.08 340,798.6 C346.02,798.12 357.37,797.45 366.1,797.3 C374.83,797.15 388.02,797.63 392.4,797.7" fill="none" stroke="#9a1016" stroke-width="1.8" stroke-linejoin="round" stroke-linecap="round"/>
<text x="261.6" y="885.4" font-family="Liberation Serif" font-size="7.2" text-anchor="middle" fill="#000" textLength="3.24" lengthAdjust="spacingAndGlyphs">0</text>
<text x="287.8" y="885.4" font-family="Liberation Serif" font-size="7.2" text-anchor="middle" fill="#000" textLength="6.48" lengthAdjust="spacingAndGlyphs">10</text>
<text x="314" y="885.4" font-family="Liberation Serif" font-size="7.2" text-anchor="middle" fill="#000" textLength="6.48" lengthAdjust="spacingAndGlyphs">20</text>
<text x="340.2" y="885.4" font-family="Liberation Serif" font-size="7.2" text-anchor="middle" fill="#000" textLength="6.48" lengthAdjust="spacingAndGlyphs">30</text>
<text x="366.4" y="885.4" font-family="Liberation Serif" font-size="7.2" text-anchor="middle" fill="#000" textLength="6.48" lengthAdjust="spacingAndGlyphs">40</text>
<text x="392.6" y="885.4" font-family="Liberation Serif" font-size="7.2" text-anchor="middle" fill="#000" textLength="6.48" lengthAdjust="spacingAndGlyphs">50</text>
<text x="418.8" y="885.4" font-family="Liberation Serif" font-size="7.2" text-anchor="middle" fill="#000" textLength="6.48" lengthAdjust="spacingAndGlyphs">60</text>
<text x="339" y="899.2" font-family="Liberation Sans" font-size="7.6" text-anchor="middle" dominant-baseline="central" fill="#000" textLength="80.6" lengthAdjust="spacingAndGlyphs">LED forward current (mA)</text>
<text x="0" y="0" transform="translate(241.4,796.2) rotate(-90)" font-family="Liberation Sans" font-size="7.6" text-anchor="middle" dominant-baseline="central" fill="#000" textLength="54.5" lengthAdjust="spacingAndGlyphs">Turn off time (ms)</text>
<text x="270.7 275.7 280.7 285.7 290.7 295.7 300.7 305.7 310.7 315.7 320.7 325.7 330.7 335.7 340.7 345.7 350.7 355.7 360.7 365.7 370.7 375.7" y="698" font-family="Liberation Serif" font-size="11.2" text-anchor="middle" fill="#505050" xml:space="preserve">    f  ar  c rre t  s.</text>
<text transform="translate(270.7,698) scale(0.731,1)" x="0" y="0" font-family="Liberation Serif" font-size="11.2" text-anchor="middle" fill="#505050">L</text>
<text transform="translate(275.7,698) scale(0.731,1)" x="0" y="0" font-family="Liberation Serif" font-size="11.2" text-anchor="middle" fill="#505050">E</text>
<text transform="translate(280.7,698) scale(0.618,1)" x="0" y="0" font-family="Liberation Serif" font-size="11.2" text-anchor="middle" fill="#505050">D</text>
<text transform="translate(295.7,698) scale(0.893,1)" x="0" y="0" font-family="Liberation Serif" font-size="11.2" text-anchor="middle" fill="#505050">o</text>
<text transform="translate(300.7,698) scale(0.618,1)" x="0" y="0" font-family="Liberation Serif" font-size="11.2" text-anchor="middle" fill="#505050">w</text>
<text transform="translate(315.7,698) scale(0.893,1)" x="0" y="0" font-family="Liberation Serif" font-size="11.2" text-anchor="middle" fill="#505050">d</text>
<text transform="translate(330.7,698) scale(0.893,1)" x="0" y="0" font-family="Liberation Serif" font-size="11.2" text-anchor="middle" fill="#505050">u</text>
<text transform="translate(350.7,698) scale(0.893,1)" x="0" y="0" font-family="Liberation Serif" font-size="11.2" text-anchor="middle" fill="#505050">n</text>
<text transform="translate(365.7,698) scale(0.618,1)" x="0" y="0" font-family="Liberation Serif" font-size="11.2" text-anchor="middle" fill="#505050">V</text>
<text x="270.7 275.7 280.7 285.7 290.7 295.7 300.7 305.7 310.7 315.7 320.7 325.7 330.7 335.7 340.7 345.7 350.7 355.7 360.7 365.7 370.7 375.7 380.7 385.7 390.7 395.7 400.7 405.7 410.7" y="709" font-family="Liberation Serif" font-size="11.2" text-anchor="middle" fill="#505050" xml:space="preserve">t r   ff ti e c aracteristics</text>
<text transform="translate(275.7,709) scale(0.893,1)" x="0" y="0" font-family="Liberation Serif" font-size="11.2" text-anchor="middle" fill="#505050">u</text>
<text transform="translate(285.7,709) scale(0.893,1)" x="0" y="0" font-family="Liberation Serif" font-size="11.2" text-anchor="middle" fill="#505050">n</text>
<text transform="translate(295.7,709) scale(0.893,1)" x="0" y="0" font-family="Liberation Serif" font-size="11.2" text-anchor="middle" fill="#505050">o</text>
<text transform="translate(325.7,709) scale(0.574,1)" x="0" y="0" font-family="Liberation Serif" font-size="11.2" text-anchor="middle" fill="#505050">m</text>
<text transform="translate(345.7,709) scale(0.893,1)" x="0" y="0" font-family="Liberation Serif" font-size="11.2" text-anchor="middle" fill="#505050">h</text>
<line x1="524.18" y1="719.5" x2="524.18" y2="876.9" stroke="#a8343c" stroke-width="1.25" stroke-dasharray="6.3 2"/>
<line x1="555.56" y1="719.5" x2="555.56" y2="876.9" stroke="#a8343c" stroke-width="1.25" stroke-dasharray="6.3 2"/>
<line x1="586.94" y1="719.5" x2="586.94" y2="876.9" stroke="#a8343c" stroke-width="1.25" stroke-dasharray="6.3 2"/>
<line x1="618.32" y1="719.5" x2="618.32" y2="876.9" stroke="#a8343c" stroke-width="1.25" stroke-dasharray="6.3 2"/>
<line x1="492.8" y1="837.55" x2="649.7" y2="837.55" stroke="#a8343c" stroke-width="1.25" stroke-dasharray="6.3 2"/>
<line x1="492.8" y1="798.2" x2="649.7" y2="798.2" stroke="#a8343c" stroke-width="1.25" stroke-dasharray="6.3 2"/>
<line x1="492.8" y1="758.85" x2="649.7" y2="758.85" stroke="#a8343c" stroke-width="1.25" stroke-dasharray="6.3 2"/>
<rect x="492.8" y="719.5" width="156.9" height="157.4" fill="none" stroke="#b0141a" stroke-width="1.55"/>
<line x1="492.05" y1="719.5" x2="650.45" y2="719.5" stroke="#b0141a" stroke-width="2.1"/>
<text x="490.3" y="878.2" font-family="Liberation Serif" font-size="7.2" text-anchor="end" fill="#000" textLength="3.24" lengthAdjust="spacingAndGlyphs">0</text>
<text x="490.3" y="838.85" font-family="Liberation Serif" font-size="7.2" text-anchor="end" fill="#000" textLength="6.48" lengthAdjust="spacingAndGlyphs">50</text>
<text x="490.3" y="799.5" font-family="Liberation Serif" font-size="7.2" text-anchor="end" fill="#000" textLength="9.72" lengthAdjust="spacingAndGlyphs">100</text>
<text x="490.3" y="760.15" font-family="Liberation Serif" font-size="7.2" text-anchor="end" fill="#000" textLength="9.72" lengthAdjust="spacingAndGlyphs">150</text>
<text x="490.3" y="720.8" font-family="Liberation Serif" font-size="7.2" text-anchor="end" fill="#000" textLength="9.72" lengthAdjust="spacingAndGlyphs">200</text>
<path d="M493.1,837.7 C493.17,839.17 492.93,843.55 493.5,846.5 C494.07,849.45 494.97,852.73 496.5,855.4 C498.03,858.07 500.48,860.58 502.7,862.5 C504.92,864.42 507.3,865.87 509.8,866.9 C512.3,867.93 515.2,868.38 517.7,868.7 C520.2,869.02 520.25,868.73 524.8,868.8 C529.35,868.87 539.13,868.92 545,869.1 C550.87,869.28 553,869.67 560,869.9 C567,870.13 577.23,870.27 587,870.5 C596.77,870.73 608.15,871.1 618.6,871.3 C629.05,871.5 644.52,871.63 649.7,871.7" fill="none" stroke="#9a1016" stroke-width="1.8" stroke-linejoin="round" stroke-linecap="round"/>
<text x="492.8" y="888.6" font-family="Liberation Serif" font-size="7.2" text-anchor="middle" fill="#000" textLength="3.24" lengthAdjust="spacingAndGlyphs">0</text>
<text x="524.18" y="888.6" font-family="Liberation Serif" font-size="7.2" text-anchor="middle" fill="#000" textLength="6.48" lengthAdjust="spacingAndGlyphs">10</text>
<text x="555.56" y="888.6" font-family="Liberation Serif" font-size="7.2" text-anchor="middle" fill="#000" textLength="6.48" lengthAdjust="spacingAndGlyphs">20</text>
<text x="586.94" y="888.6" font-family="Liberation Serif" font-size="7.2" text-anchor="middle" fill="#000" textLength="6.48" lengthAdjust="spacingAndGlyphs">30</text>
<text x="618.32" y="888.6" font-family="Liberation Serif" font-size="7.2" text-anchor="middle" fill="#000" textLength="6.48" lengthAdjust="spacingAndGlyphs">40</text>
<text x="649.7" y="888.6" font-family="Liberation Serif" font-size="7.2" text-anchor="middle" fill="#000" textLength="6.48" lengthAdjust="spacingAndGlyphs">50</text>
<text x="573.55" y="899.7" font-family="Liberation Sans" font-size="7.6" text-anchor="middle" dominant-baseline="central" fill="#000" textLength="59.3" lengthAdjust="spacingAndGlyphs">Applied voltage (V)</text>
<text x="0" y="0" transform="translate(472.4,791.1) rotate(-90)" font-family="Liberation Sans" font-size="7.6" text-anchor="middle" dominant-baseline="central" fill="#000" textLength="65.9" lengthAdjust="spacingAndGlyphs">Out capacitance (pF)</text>
<text x="490 495 500 505 510 515 520 525 530 535 540 545 550 555 560 565 570 575 580" y="698" font-family="Liberation Serif" font-size="11.2" text-anchor="middle" fill="#505050" xml:space="preserve">   lie    lta e  s.</text>
<text transform="translate(490,698) scale(0.618,1)" x="0" y="0" font-family="Liberation Serif" font-size="11.2" text-anchor="middle" fill="#505050">A</text>
<text transform="translate(495,698) scale(0.893,1)" x="0" y="0" font-family="Liberation Serif" font-size="11.2" text-anchor="middle" fill="#505050">p</text>
<text transform="translate(500,698) scale(0.893,1)" x="0" y="0" font-family="Liberation Serif" font-size="11.2" text-anchor="middle" fill="#505050">p</text>
<text transform="translate(520,698) scale(0.893,1)" x="0" y="0" font-family="Liberation Serif" font-size="11.2" text-anchor="middle" fill="#505050">d</text>
<text transform="translate(530,698) scale(0.893,1)" x="0" y="0" font-family="Liberation Serif" font-size="11.2" text-anchor="middle" fill="#505050">v</text>
<text transform="translate(535,698) scale(0.893,1)" x="0" y="0" font-family="Liberation Serif" font-size="11.2" text-anchor="middle" fill="#505050">o</text>
<text transform="translate(555,698) scale(0.893,1)" x="0" y="0" font-family="Liberation Serif" font-size="11.2" text-anchor="middle" fill="#505050">g</text>
<text transform="translate(570,698) scale(0.618,1)" x="0" y="0" font-family="Liberation Serif" font-size="11.2" text-anchor="middle" fill="#505050">V</text>
<text x="490 495 500 505 510 515 520 525 530 535 540 545 550 555 560 565 570 575 580 585 590 595 600 605 610 615 620 625 630 635 640 645 650 655" y="709" font-family="Liberation Serif" font-size="11.2" text-anchor="middle" fill="#505050" xml:space="preserve">  t  t ca acita ce c aracteristics</text>
<text transform="translate(490,709) scale(0.893,1)" x="0" y="0" font-family="Liberation Serif" font-size="11.2" text-anchor="middle" fill="#505050">o</text>
<text transform="translate(495,709) scale(0.893,1)" x="0" y="0" font-family="Liberation Serif" font-size="11.2" text-anchor="middle" fill="#505050">u</text>
<text transform="translate(505,709) scale(0.893,1)" x="0" y="0" font-family="Liberation Serif" font-size="11.2" text-anchor="middle" fill="#505050">p</text>
<text transform="translate(510,709) scale(0.893,1)" x="0" y="0" font-family="Liberation Serif" font-size="11.2" text-anchor="middle" fill="#505050">u</text>
<text transform="translate(535,709) scale(0.893,1)" x="0" y="0" font-family="Liberation Serif" font-size="11.2" text-anchor="middle" fill="#505050">p</text>
<text transform="translate(565,709) scale(0.893,1)" x="0" y="0" font-family="Liberation Serif" font-size="11.2" text-anchor="middle" fill="#505050">n</text>
<text transform="translate(590,709) scale(0.893,1)" x="0" y="0" font-family="Liberation Serif" font-size="11.2" text-anchor="middle" fill="#505050">h</text>
</svg></body></html>
